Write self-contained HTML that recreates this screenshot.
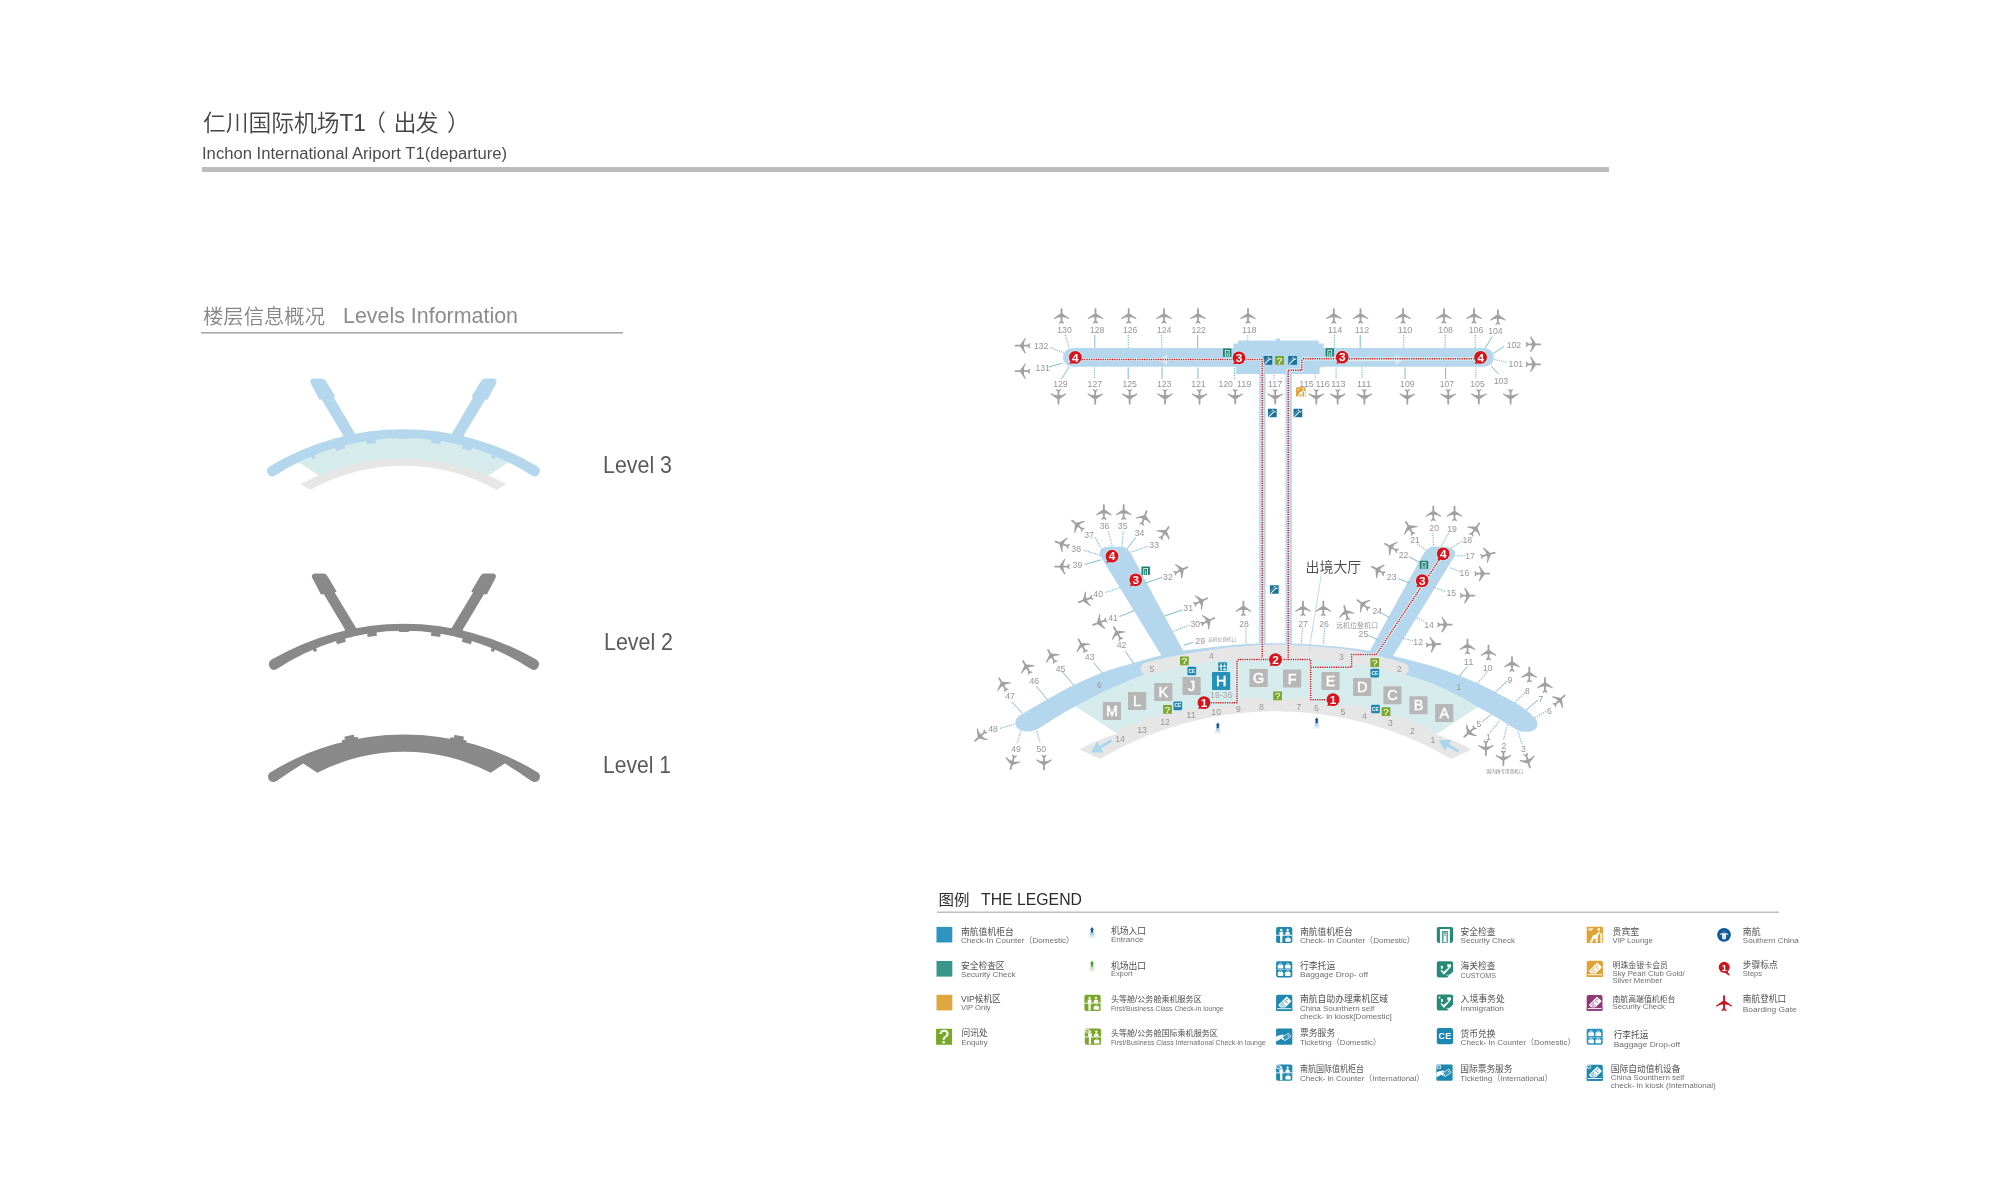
<!DOCTYPE html>
<html lang="zh">
<head>
<meta charset="utf-8">
<title>仁川国际机场T1（出发）</title>
<style>
html,body{margin:0;padding:0;background:#fff;}
body{width:2000px;height:1200px;overflow:hidden;font-family:"Liberation Sans", "Noto Sans CJK SC", sans-serif;}
svg{display:block;position:absolute;left:0;top:0;}
svg text{font-family:"Liberation Sans", "Noto Sans CJK SC", sans-serif;}
svg text{filter:grayscale(1);}
</style>
</head>
<body>
<svg width="2000" height="1200" viewBox="0 0 2000 1200">
<g id="header">
<text y="130.5" font-size="23" fill="#444" font-weight="350"><tspan x="203" textLength="163" lengthAdjust="spacingAndGlyphs">仁川国际机场T1</tspan><tspan x="363">（</tspan><tspan x="393.5" textLength="45">出发</tspan><tspan x="447">）</tspan></text>
<text x="202" y="158.6" font-size="16" fill="#4d4d4d" textLength="305" lengthAdjust="spacingAndGlyphs">Inchon International Ariport T1(departure)</text>
<rect x="202" y="167" width="1407" height="5" fill="#bdbdbd"/>
</g>
<g id="levels">
<text x="203" y="323.5" font-size="20.3" fill="#868686" textLength="122" lengthAdjust="spacingAndGlyphs" font-weight="350">楼层信息概况</text>
<text x="343" y="323.2" font-size="22.8" fill="#8c8c8c" textLength="175" lengthAdjust="spacingAndGlyphs">Levels Information</text>
<rect x="201" y="332" width="422" height="1.6" fill="#a9a9a9"/>
<path d="M300.4,484.3 A215,215 0 0 1 506.5,484.3 L496.5,489.8 A191.5,191.5 0 0 0 310.4,489.8Z" fill="#e6e6e6"/>
<path d="M298.3,462.2 L296,458 A245,245 0 0 1 510.9,458 L508.6,462.2 L487.4,476 A212,212 0 0 0 319.5,476Z" fill="#d6ebeb"/>
<path d="M319.4,399.7 L311.2,384.2 Q308.2,378.4 314.4,378.4 L321.9,378.4 Q324.2,378.4 325.8,381.1 L335.3,396.6 L333.8,397.5 L354.4,432.5 L356.4,440.5 L343.1,443.3 L343.1,435.3 L321.6,399.4Z" fill="#b4d7ed"/>
<path d="M487.5,399.7 L495.7,384.2 Q498.7,378.4 492.5,378.4 L485.0,378.4 Q482.7,378.4 481.1,381.1 L471.6,396.6 L473.1,397.5 L452.5,432.5 L450.5,440.5 L463.8,443.3 L463.8,435.3 L485.3,399.4Z" fill="#b4d7ed"/>
<path d="M269.4,466.4 A260.7,260.7 0 0 1 537.5,466.4 A5.4,5.4 0 0 1 532.3,475.8 A238.0,238.0 0 0 0 274.6,475.8 A5.4,5.4 0 0 1 269.4,466.4Z" fill="#b4d7ed"/>
<rect x="-4.8" y="-0.5" width="9.6" height="3.9" fill="#b4d7ed" transform="translate(370.8,440.2) rotate(-7.9)"/>
<rect x="-4.8" y="-0.5" width="9.6" height="3.9" fill="#b4d7ed" transform="translate(436.1,440.2) rotate(7.9)"/>
<rect x="-4.8" y="-0.5" width="9.6" height="3.9" fill="#b4d7ed" transform="translate(339.8,446.6) rotate(-15.5)"/>
<rect x="-4.8" y="-0.5" width="9.6" height="3.9" fill="#b4d7ed" transform="translate(467.1,446.6) rotate(15.5)"/>
<rect x="-1.8" y="-0.5" width="3.6" height="3.1" fill="#b4d7ed" transform="translate(313.0,455.8) rotate(-22.3)"/>
<rect x="-1.8" y="-0.5" width="3.6" height="3.1" fill="#b4d7ed" transform="translate(493.9,455.8) rotate(22.3)"/>
<rect x="398.45" y="437" width="10" height="1.8" fill="#b4d7ed"/>
<text x="603" y="472.6" font-size="23.4" fill="#5a5a5a" textLength="69" lengthAdjust="spacingAndGlyphs">Level 3</text>
<path d="M321.0,594.5 L312.8,579.1 Q309.8,573.4 315.9,573.4 L323.7,573.4 Q326.0,573.4 327.6,576.2 L336.6,591.6 L334.7,592.5 L355.8,627.4 L357.8,635.4 L344.8,637.2 L344.8,629.2 L323.7,594.0Z" fill="#898989"/>
<path d="M486.8,594.5 L495.0,579.1 Q498.0,573.4 491.9,573.4 L484.1,573.4 Q481.8,573.4 480.2,576.2 L471.2,591.6 L473.1,592.5 L452.0,627.4 L450.0,635.4 L463.0,637.2 L463.0,629.2 L484.1,594.0Z" fill="#898989"/>
<path d="M271.6,659.6 A262.4,262.4 0 0 1 536.2,659.6 A5.5,5.5 0 0 1 531.8,669.6 A230.2,230.2 0 0 0 276.0,669.6 A5.5,5.5 0 0 1 271.6,659.6Z" fill="#898989"/>
<rect x="-4.7" y="-0.5" width="9.4" height="3.9" fill="#898989" transform="translate(371.8,633.0) rotate(-8.0)"/>
<rect x="-4.7" y="-0.5" width="9.4" height="3.9" fill="#898989" transform="translate(436.0,633.0) rotate(8.0)"/>
<rect x="-4.7" y="-0.5" width="9.4" height="3.9" fill="#898989" transform="translate(340.5,639.7) rotate(-16.0)"/>
<rect x="-4.7" y="-0.5" width="9.4" height="3.9" fill="#898989" transform="translate(467.3,639.7) rotate(16.0)"/>
<rect x="-1.7" y="-0.5" width="3.4" height="3.1" fill="#898989" transform="translate(314.5,648.9) rotate(-22.9)"/>
<rect x="-1.7" y="-0.5" width="3.4" height="3.1" fill="#898989" transform="translate(493.3,648.9) rotate(22.9)"/>
<rect x="398.9" y="630" width="10" height="2" fill="#898989"/>
<text x="604" y="649.6" font-size="23.4" fill="#5a5a5a" textLength="69" lengthAdjust="spacingAndGlyphs">Level 2</text>
<path d="M269.4,772.9 A255.1,255.1 0 0 1 538.6,772.9 A5.4,5.4 0 0 1 531.4,780.9 Q518.0,771.8 504.8,763.6 L490.6,772.7 A189.9,189.9 0 0 0 317.4,772.7 L303.2,763.6 Q290,771.8 276.6,780.9 A5.4,5.4 0 0 1 269.4,772.9Z" fill="#898989"/>
<g transform="translate(349.9,740.3) rotate(-12.2)" fill="#898989"><rect x="-8" y="-1.7" width="16.4" height="3.4"/><rect x="-4.7" y="-4.7" width="9.8" height="5" rx="0.8"/></g>
<g transform="translate(458.1,740.3) rotate(12.2)" fill="#898989"><rect x="-8" y="-1.7" width="16.4" height="3.4"/><rect x="-4.7" y="-4.7" width="9.8" height="5" rx="0.8"/></g>
<text x="603" y="772.6" font-size="23.4" fill="#5a5a5a" textLength="68" lengthAdjust="spacingAndGlyphs">Level 1</text>
</g>
<g id="map">
<defs>
<g id="pl"><path d="M0,-7.9 C0.7,-7.8 0.92,-7.0 0.92,-6.0 L0.92,-2.4 Q4.2,-0.2 7.8,2.5 L7.4,3.5 Q3.6,1.1 0.92,1.5 L0.88,5.0 L2.5,7.0 L2.3,7.9 L0,6.9 L-2.3,7.9 L-2.5,7.0 L-0.88,5.0 L-0.92,1.5 Q-3.6,1.1 -7.4,3.5 L-7.8,2.5 Q-4.2,-0.2 -0.92,-2.4 L-0.92,-6.0 C-0.92,-7.0 -0.7,-7.8 0,-7.9Z"/></g>
</defs>
<rect x="1063" y="348" width="180" height="18.8" rx="9.4" fill="#b4d7ed"/>
<rect x="1310" y="348" width="183.8" height="18.8" rx="9.4" fill="#b4d7ed"/>
<path d="M1233.4,343.6 L1238,343.6 L1238,340.6 L1275.8,340.6 L1275.8,338.6 L1280,338.6 L1280,340.6 L1318.8,340.6 L1318.8,343.6 L1323.6,343.6 L1323.6,367.2 L1319.6,367.2 L1319.6,374 L1236.2,374 L1236.2,367.2 L1233.4,367.2Z" fill="#b4d7ed"/>
<rect x="1259.2" y="373" width="6.3" height="271" fill="#b4d7ed"/>
<rect x="1285.5" y="373" width="6.3" height="271" fill="#b4d7ed"/>
<path d="M1159,359.8 L1167,354.6 L1167,365.2Z" fill="#d9ecec"/>
<path d="M1403.6,359.7 L1395.5,354.4 L1395.5,358.6 L1346,358.6 L1346,361.2 L1395.5,361.2 L1395.5,365Z" fill="#d9ecec"/>
<path d="M1079.9,749.4C1082.4,748.1 1088.8,744.4 1095.0,741.8 C1101.2,739.2 1113.3,735.0 1117.0,733.6 L1150,690 L1401.2,690 L1434.2,733.6C1437.9,735.0 1450.0,739.2 1456.2,741.8 C1462.4,744.4 1468.8,748.1 1471.3,749.4 L1451.4,759.0 A347.0,347.0 0 0 0 1099.8,759.0Z" fill="#e6e6e6"/>
<path d="M1075.6,706.6 L1117.0,733.6 L1119.8,731.2 L1120.4,729.0 L1133.6,723.4 L1135.2,725.0 L1141.8,720.2 L1152.6,716.2 L1154.0,717.6 L1165.0,713.6 L1180.0,710.6 L1198.0,708.4 L1215.0,706.4 L1236.0,704.2 L1241.6,703.4 L1242.2,697.8 L1258.0,697.0 L1259.0,699.6 L1275.6,699.2 L1292.0,699.4 L1293.0,697.4 L1309.0,697.6 L1310.0,703.0 L1316.0,703.6 L1330.0,704.6 L1345.0,706.0 L1346.0,704.0 L1364.6,706.6 L1363.4,709.2 L1380.0,712.6 L1393.4,716.8 L1394.4,715.0 L1411.6,720.6 L1410.4,723.2 L1417.6,725.2 L1418.8,723.4 L1431.6,729.0 L1431.0,731.6 L1436.2,734.4 L1477.6,707.0 L1477.0,702.0 L1450.0,687.0 L1410.0,672.0 L1400.0,668.0 L1350.0,655.0 L1275.6,650.0 L1200.0,655.0 L1150.0,668.0 L1135.0,674.0 L1100.0,689.0 L1076.0,702.0Z" fill="#d6ebeb"/>
<path d="M1015.2,723.0C1015.4,722.3 1015.4,720.1 1016.6,718.6 C1017.8,717.1 1017.3,717.1 1022.5,713.8 C1027.7,710.5 1039.4,703.8 1048.0,699.0 C1056.6,694.2 1064.9,689.4 1074.0,685.0 C1083.1,680.6 1092.5,676.3 1102.5,672.6 C1112.5,668.9 1124.2,665.6 1134.0,662.8 C1143.8,659.9 1152.7,657.5 1161.0,655.5 C1169.3,653.5 1175.8,652.0 1184.0,650.6 C1192.2,649.2 1200.7,648.4 1210.0,647.4 C1219.3,646.4 1231.8,645.0 1240.0,644.4 C1248.2,643.8 1253.1,643.7 1259.0,643.5 C1264.9,643.3 1270.1,643.2 1275.6,643.2 C1281.1,643.2 1286.1,643.3 1292.0,643.5 C1297.9,643.7 1302.8,643.8 1311.0,644.4 C1319.2,645.0 1331.7,646.0 1341.0,647.0 C1350.3,648.0 1358.3,649.1 1367.0,650.6 C1375.7,652.1 1382.5,653.5 1393.0,656.0 C1403.5,658.5 1418.8,662.3 1430.0,665.6 C1441.2,668.9 1452.0,673.0 1460.0,676.0 C1468.0,679.0 1472.2,680.9 1478.0,683.6 C1483.8,686.3 1488.8,688.8 1495.0,692.0 C1501.2,695.2 1509.8,699.6 1515.0,702.6 C1520.2,705.6 1523.0,707.7 1526.0,710.0 C1529.0,712.3 1531.5,714.9 1533.2,716.6 C1534.9,718.3 1535.7,718.8 1536.4,720.0 C1537.1,721.2 1537.4,723.0 1537.6,723.6 C1537.4,724.3 1537.4,726.7 1536.4,728.0 C1535.4,729.3 1533.4,730.6 1531.5,731.2 C1529.6,731.8 1527.2,731.9 1525.0,731.8 C1522.8,731.7 1520.8,731.6 1518.0,730.4 C1515.2,729.2 1512.7,727.4 1508.0,724.6 C1503.3,721.8 1495.0,716.5 1490.0,713.6 C1485.0,710.7 1482.2,709.4 1478.0,707.0 C1473.8,704.6 1469.7,701.6 1465.0,699.0 C1460.3,696.4 1455.8,694.3 1450.0,691.6 C1444.2,688.9 1436.7,685.2 1430.0,682.6 C1423.3,680.0 1415.0,677.6 1410.0,676.0 C1405.0,674.4 1401.7,673.5 1400.0,673.0 L1400,668 L1350,657 L1275.6,652 L1200,657 L1150,668 L1150.0,672.6C1149.0,672.9 1146.5,673.3 1144.0,674.2 C1141.5,675.1 1139.8,675.9 1135.0,678.0 C1130.2,680.1 1121.7,683.6 1115.0,686.6 C1108.3,689.6 1101.7,692.7 1095.0,696.0 C1088.3,699.3 1081.7,702.9 1075.0,706.6 C1068.3,710.3 1060.8,714.5 1055.0,718.0 C1049.2,721.5 1043.7,725.7 1040.0,727.8 C1036.3,729.9 1035.2,730.2 1033.0,730.8 C1030.8,731.4 1029.1,731.7 1027.0,731.6 C1024.9,731.5 1022.3,730.8 1020.5,730.0 C1018.7,729.2 1017.3,728.2 1016.4,727.0 C1015.5,725.8 1015.4,723.7 1015.2,723.0 Z" fill="#b4d7ed"/>
<path d="M1162.6,657.4 L1100.6,556.4 C1097.6,551.5 1102.3,546.6 1110.0,546.6 L1121.5,546.8 C1124.9,546.8 1128.3,548.8 1131.4,554.6 L1183.6,651.6 L1181.6,659.6 L1166.6,663.4Z" fill="#b4d7ed"/>
<path d="M1369.4,651.6 L1423.6,553.4 C1425.5,550.0 1430.4,546.5 1433.4,546.5 L1445.2,546.9 C1452.8,546.9 1457.4,551.8 1454.4,556.6 L1392.6,656.6 L1388.6,662.6 L1371.4,659.6Z" fill="#b4d7ed"/>
<path d="M1145.6,674.2 A5.85,5.85 0 0 1 1146.4,662.6 C1147.6,662.3 1150.5,661.4 1153.3,660.7 C1156.1,660.0 1159.4,659.1 1163.3,658.2 C1167.2,657.3 1173.1,656.2 1176.7,655.5 C1180.3,654.8 1180.3,654.8 1185.0,654.0 C1189.7,653.2 1198.3,651.7 1205.0,650.7 C1211.7,649.7 1218.3,648.6 1225.0,647.8 C1231.7,647.0 1239.3,646.5 1245.0,646.0 C1250.7,645.5 1253.9,645.2 1259.0,645.0 C1264.1,644.8 1270.1,644.6 1275.6,644.6 C1281.1,644.6 1286.1,644.8 1292.0,645.0 C1297.9,645.2 1302.8,645.4 1311.0,646.0 C1319.2,646.6 1332.8,647.7 1341.0,648.6 C1349.2,649.5 1354.2,650.4 1360.0,651.6 C1365.8,652.8 1372.1,654.6 1376.0,655.6 C1379.9,656.6 1380.4,656.7 1383.3,657.4 C1386.2,658.1 1390.0,658.8 1393.3,659.7 C1396.5,660.6 1401.2,662.3 1402.8,662.8 A6.1,6.1 0 0 1 1403.6,674.9 C1401.9,674.4 1396.9,673.0 1393.3,672.0 C1389.7,671.0 1385.8,670.0 1381.7,669.0 C1377.6,668.0 1372.3,667.0 1368.7,666.3 C1365.1,665.6 1364.8,665.2 1360.0,664.7 C1355.2,664.2 1348.3,663.7 1340.0,663.0 C1331.7,662.3 1319.5,661.1 1310.0,660.5 C1300.5,659.9 1288.7,659.7 1283.0,659.5 C1277.3,659.3 1278.1,659.4 1275.6,659.4 C1273.1,659.4 1273.1,659.5 1268.0,659.5 C1262.9,659.5 1250.5,659.3 1245.0,659.3 C1239.5,659.3 1239.5,659.4 1235.0,659.6 C1230.5,659.9 1223.3,660.3 1218.3,660.8 C1213.3,661.2 1209.7,661.7 1205.0,662.3 C1200.3,662.9 1194.7,663.7 1190.0,664.6 C1185.3,665.5 1181.2,666.5 1176.7,667.6 C1172.2,668.7 1167.2,670.1 1163.3,671.0 C1159.4,671.9 1156.2,672.5 1153.3,673.0 C1150.3,673.5 1146.9,674.0 1145.6,674.2 Z" fill="#e6e6e6"/>
<path d="M1110.7,739.4 L1099.6,745.9 L1097.1,741.7 L1091.1,752.4 L1103.4,752.4 L1100.9,748.2 L1112.1,741.8Z" fill="#a9d5ef"/>
<path d="M1459.3,750.2 L1448.8,744.1 L1451.2,739.9 L1438.9,740.0 L1445.0,750.7 L1447.4,746.5 L1457.9,752.6Z" fill="#a9d5ef"/>
<line x1="1065.2" y1="334.8" x2="1069.0" y2="347.6" stroke="#74b2c8" stroke-width="1.1" stroke-dasharray="1.15 1.15"/>
<line x1="1094.8" y1="335.0" x2="1094.8" y2="347.8" stroke="#74b2c8" stroke-width="0.9"/>
<line x1="1128.3" y1="335.0" x2="1128.3" y2="347.8" stroke="#74b2c8" stroke-width="1.1" stroke-dasharray="1.15 1.15"/>
<line x1="1161.7" y1="335.0" x2="1161.7" y2="347.8" stroke="#74b2c8" stroke-width="1.1" stroke-dasharray="1.15 1.15"/>
<line x1="1197.7" y1="335.0" x2="1197.7" y2="347.8" stroke="#74b2c8" stroke-width="0.9"/>
<line x1="1247.8" y1="335.2" x2="1247.8" y2="340.6" stroke="#74b2c8" stroke-width="1.1" stroke-dasharray="1.15 1.15"/>
<line x1="1334.5" y1="335.0" x2="1334.5" y2="347.8" stroke="#74b2c8" stroke-width="1.1" stroke-dasharray="1.15 1.15"/>
<line x1="1360.2" y1="335.0" x2="1360.2" y2="347.8" stroke="#74b2c8" stroke-width="0.9"/>
<line x1="1403.7" y1="335.0" x2="1403.7" y2="347.8" stroke="#74b2c8" stroke-width="1.1" stroke-dasharray="1.15 1.15"/>
<line x1="1445.2" y1="335.0" x2="1445.2" y2="347.8" stroke="#74b2c8" stroke-width="1.1" stroke-dasharray="1.15 1.15"/>
<line x1="1475.2" y1="335.0" x2="1475.2" y2="347.8" stroke="#74b2c8" stroke-width="1.1" stroke-dasharray="1.15 1.15"/>
<line x1="1492.4" y1="336.6" x2="1485.3" y2="347.8" stroke="#74b2c8" stroke-width="0.9"/>
<line x1="1504.1" y1="346.4" x2="1493.1" y2="353.5" stroke="#74b2c8" stroke-width="0.9"/>
<line x1="1506.7" y1="362.3" x2="1494.4" y2="359.4" stroke="#74b2c8" stroke-width="1.1" stroke-dasharray="1.15 1.15"/>
<line x1="1498.9" y1="374.3" x2="1491.1" y2="365.9" stroke="#74b2c8" stroke-width="0.9"/>
<line x1="1050.2" y1="347.5" x2="1063.7" y2="352.7" stroke="#74b2c8" stroke-width="1.1" stroke-dasharray="1.15 1.15"/>
<line x1="1048.7" y1="367.0" x2="1062.2" y2="363.2" stroke="#74b2c8" stroke-width="0.9"/>
<line x1="1061.5" y1="379.0" x2="1069.0" y2="367.0" stroke="#74b2c8" stroke-width="0.9"/>
<line x1="1094.5" y1="367.4" x2="1094.5" y2="379.0" stroke="#74b2c8" stroke-width="1.1" stroke-dasharray="1.15 1.15"/>
<line x1="1128.2" y1="367.4" x2="1128.2" y2="379.0" stroke="#74b2c8" stroke-width="0.9"/>
<line x1="1162.0" y1="367.4" x2="1162.0" y2="379.0" stroke="#74b2c8" stroke-width="0.9"/>
<line x1="1198.0" y1="367.4" x2="1198.0" y2="379.0" stroke="#74b2c8" stroke-width="0.9"/>
<line x1="1234.4" y1="368.0" x2="1234.4" y2="380.0" stroke="#74b2c8" stroke-width="1.1" stroke-dasharray="1.15 1.15"/>
<line x1="1274.0" y1="375.0" x2="1274.0" y2="379.4" stroke="#74b2c8" stroke-width="1.1" stroke-dasharray="1.15 1.15"/>
<line x1="1315.3" y1="374.2" x2="1315.3" y2="379.4" stroke="#74b2c8" stroke-width="1.1" stroke-dasharray="1.15 1.15"/>
<line x1="1336.1" y1="367.4" x2="1336.1" y2="379.0" stroke="#74b2c8" stroke-width="1.1" stroke-dasharray="1.15 1.15"/>
<line x1="1362.1" y1="367.4" x2="1362.1" y2="379.0" stroke="#74b2c8" stroke-width="1.1" stroke-dasharray="1.15 1.15"/>
<line x1="1405.0" y1="367.4" x2="1405.0" y2="379.0" stroke="#74b2c8" stroke-width="0.9"/>
<line x1="1445.6" y1="367.4" x2="1445.6" y2="379.0" stroke="#74b2c8" stroke-width="0.9"/>
<line x1="1475.8" y1="367.4" x2="1475.8" y2="379.0" stroke="#74b2c8" stroke-width="1.1" stroke-dasharray="1.15 1.15"/>
<line x1="1108.4" y1="531.4" x2="1112.4" y2="546.8" stroke="#74b2c8" stroke-width="1.1" stroke-dasharray="1.15 1.15"/>
<line x1="1123.3" y1="531.6" x2="1122.0" y2="546.8" stroke="#74b2c8" stroke-width="1.1" stroke-dasharray="1.15 1.15"/>
<line x1="1094.8" y1="537.4" x2="1102.6" y2="550.4" stroke="#74b2c8" stroke-width="1.1" stroke-dasharray="1.15 1.15"/>
<line x1="1135.8" y1="537.4" x2="1127.0" y2="549.0" stroke="#74b2c8" stroke-width="0.9"/>
<line x1="1147.6" y1="546.4" x2="1130.6" y2="552.4" stroke="#74b2c8" stroke-width="1.1" stroke-dasharray="1.15 1.15"/>
<line x1="1083.6" y1="550.2" x2="1100.0" y2="555.2" stroke="#74b2c8" stroke-width="1.1" stroke-dasharray="1.15 1.15"/>
<line x1="1084.6" y1="564.6" x2="1101.0" y2="559.8" stroke="#74b2c8" stroke-width="0.9"/>
<line x1="1145.2" y1="583.2" x2="1162.0" y2="577.4" stroke="#74b2c8" stroke-width="0.9"/>
<line x1="1105.4" y1="592.4" x2="1120.0" y2="587.6" stroke="#74b2c8" stroke-width="1.1" stroke-dasharray="1.15 1.15"/>
<line x1="1164.2" y1="616.2" x2="1182.0" y2="610.0" stroke="#74b2c8" stroke-width="0.9"/>
<line x1="1119.4" y1="616.6" x2="1134.2" y2="610.6" stroke="#74b2c8" stroke-width="0.9"/>
<line x1="1173.4" y1="631.2" x2="1190.0" y2="625.0" stroke="#74b2c8" stroke-width="1.1" stroke-dasharray="1.15 1.15"/>
<line x1="1125.2" y1="651.2" x2="1133.8" y2="663.4" stroke="#74b2c8" stroke-width="0.9"/>
<line x1="1183.6" y1="645.4" x2="1193.0" y2="642.2" stroke="#74b2c8" stroke-width="0.9"/>
<line x1="1093.5" y1="662.6" x2="1102.5" y2="673.0" stroke="#74b2c8" stroke-width="0.9"/>
<line x1="1062.5" y1="672.0" x2="1074.0" y2="685.5" stroke="#74b2c8" stroke-width="0.9"/>
<line x1="1036.2" y1="686.0" x2="1047.5" y2="699.8" stroke="#74b2c8" stroke-width="0.9"/>
<line x1="1012.0" y1="701.8" x2="1022.0" y2="713.0" stroke="#74b2c8" stroke-width="0.9"/>
<line x1="1000.0" y1="728.4" x2="1014.6" y2="724.2" stroke="#74b2c8" stroke-width="1.1" stroke-dasharray="1.15 1.15"/>
<line x1="1021.0" y1="730.6" x2="1017.0" y2="743.6" stroke="#74b2c8" stroke-width="1.1" stroke-dasharray="1.15 1.15"/>
<line x1="1036.8" y1="731.0" x2="1040.2" y2="742.6" stroke="#74b2c8" stroke-width="1.1" stroke-dasharray="1.15 1.15"/>
<line x1="1246.0" y1="628.0" x2="1246.0" y2="644.0" stroke="#74b2c8" stroke-width="1.1" stroke-dasharray="1.15 1.15"/>
<line x1="1302.5" y1="628.3" x2="1301.2" y2="643.6" stroke="#74b2c8" stroke-width="1.1" stroke-dasharray="1.15 1.15"/>
<line x1="1324.8" y1="628.3" x2="1323.3" y2="644.8" stroke="#74b2c8" stroke-width="1.1" stroke-dasharray="1.15 1.15"/>
<line x1="1432.8" y1="532.6" x2="1433.5" y2="546.2" stroke="#74b2c8" stroke-width="1.1" stroke-dasharray="1.15 1.15"/>
<line x1="1448.4" y1="533.3" x2="1441.3" y2="546.4" stroke="#74b2c8" stroke-width="1.1" stroke-dasharray="1.15 1.15"/>
<line x1="1417.2" y1="543.9" x2="1425.7" y2="549.6" stroke="#74b2c8" stroke-width="1.1" stroke-dasharray="1.15 1.15"/>
<line x1="1462.6" y1="541.0" x2="1450.5" y2="548.1" stroke="#74b2c8" stroke-width="1.1" stroke-dasharray="1.15 1.15"/>
<line x1="1408.7" y1="556.7" x2="1419.4" y2="562.3" stroke="#74b2c8" stroke-width="0.9"/>
<line x1="1465.4" y1="555.7" x2="1455.5" y2="555.7" stroke="#74b2c8" stroke-width="1.1" stroke-dasharray="1.15 1.15"/>
<line x1="1459.8" y1="571.5" x2="1449.1" y2="567.3" stroke="#74b2c8" stroke-width="1.1" stroke-dasharray="1.15 1.15"/>
<line x1="1398.1" y1="578.6" x2="1409.4" y2="582.9" stroke="#74b2c8" stroke-width="0.9"/>
<line x1="1444.9" y1="591.4" x2="1432.8" y2="587.1" stroke="#74b2c8" stroke-width="1.1" stroke-dasharray="1.15 1.15"/>
<line x1="1381.8" y1="613.3" x2="1389.6" y2="617.6" stroke="#74b2c8" stroke-width="0.9"/>
<line x1="1424.3" y1="621.1" x2="1415.8" y2="617.6" stroke="#74b2c8" stroke-width="1.1" stroke-dasharray="1.15 1.15"/>
<line x1="1368.3" y1="635.3" x2="1377.1" y2="639.6" stroke="#74b2c8" stroke-width="0.9"/>
<line x1="1413.0" y1="641.0" x2="1403.1" y2="638.1" stroke="#74b2c8" stroke-width="1.1" stroke-dasharray="1.15 1.15"/>
<line x1="1467.5" y1="666.2" x2="1459.5" y2="676.0" stroke="#74b2c8" stroke-width="0.9"/>
<line x1="1487.5" y1="671.5" x2="1477.5" y2="683.5" stroke="#74b2c8" stroke-width="1.1" stroke-dasharray="1.15 1.15"/>
<line x1="1507.5" y1="680.8" x2="1495.0" y2="692.5" stroke="#74b2c8" stroke-width="0.9"/>
<line x1="1525.0" y1="692.5" x2="1515.0" y2="702.5" stroke="#74b2c8" stroke-width="1.1" stroke-dasharray="1.15 1.15"/>
<line x1="1538.0" y1="700.0" x2="1526.0" y2="710.0" stroke="#74b2c8" stroke-width="0.9"/>
<line x1="1546.0" y1="711.5" x2="1535.0" y2="717.5" stroke="#74b2c8" stroke-width="1.1" stroke-dasharray="1.15 1.15"/>
<line x1="1482.0" y1="722.0" x2="1491.0" y2="714.5" stroke="#74b2c8" stroke-width="0.9"/>
<line x1="1490.0" y1="732.5" x2="1500.0" y2="720.0" stroke="#74b2c8" stroke-width="1.1" stroke-dasharray="1.15 1.15"/>
<line x1="1503.5" y1="739.5" x2="1507.5" y2="725.0" stroke="#74b2c8" stroke-width="1.1" stroke-dasharray="1.15 1.15"/>
<line x1="1522.0" y1="744.0" x2="1518.0" y2="731.5" stroke="#74b2c8" stroke-width="1.1" stroke-dasharray="1.15 1.15"/>
<line x1="1321.3" y1="574.8" x2="1309" y2="651" stroke="#b4d7ed" stroke-width="0.9"/>
<use href="#pl" transform="translate(1061.5,315.8)" fill="#a3a0a0"/>
<use href="#pl" transform="translate(1095.5,315.8)" fill="#a3a0a0"/>
<use href="#pl" transform="translate(1128.7,315.8)" fill="#a3a0a0"/>
<use href="#pl" transform="translate(1164.0,315.8)" fill="#a3a0a0"/>
<use href="#pl" transform="translate(1198.0,315.8)" fill="#a3a0a0"/>
<use href="#pl" transform="translate(1248.0,315.8)" fill="#a3a0a0"/>
<use href="#pl" transform="translate(1333.8,315.8)" fill="#a3a0a0"/>
<use href="#pl" transform="translate(1360.5,315.8)" fill="#a3a0a0"/>
<use href="#pl" transform="translate(1403.1,315.8)" fill="#a3a0a0"/>
<use href="#pl" transform="translate(1443.9,315.8)" fill="#a3a0a0"/>
<use href="#pl" transform="translate(1474.0,315.8)" fill="#a3a0a0"/>
<use href="#pl" transform="translate(1497.9,317.2)" fill="#a3a0a0"/>
<use href="#pl" transform="translate(1022.5,345.7) rotate(-90)" fill="#a3a0a0"/>
<use href="#pl" transform="translate(1022.5,371.2) rotate(-90)" fill="#a3a0a0"/>
<use href="#pl" transform="translate(1533.4,344.3) rotate(90)" fill="#a3a0a0"/>
<use href="#pl" transform="translate(1533.4,364.3) rotate(90)" fill="#a3a0a0"/>
<use href="#pl" transform="translate(1058.5,396.8) rotate(180)" fill="#a3a0a0"/>
<use href="#pl" transform="translate(1095.2,396.8) rotate(180)" fill="#a3a0a0"/>
<use href="#pl" transform="translate(1129.7,396.8) rotate(180)" fill="#a3a0a0"/>
<use href="#pl" transform="translate(1165.0,396.8) rotate(180)" fill="#a3a0a0"/>
<use href="#pl" transform="translate(1199.5,396.8) rotate(180)" fill="#a3a0a0"/>
<use href="#pl" transform="translate(1235.2,396.8) rotate(180)" fill="#a3a0a0"/>
<use href="#pl" transform="translate(1275.2,396.8) rotate(180)" fill="#a3a0a0"/>
<use href="#pl" transform="translate(1316.3,396.8) rotate(180)" fill="#a3a0a0"/>
<use href="#pl" transform="translate(1337.7,396.8) rotate(180)" fill="#a3a0a0"/>
<use href="#pl" transform="translate(1364.4,396.8) rotate(180)" fill="#a3a0a0"/>
<use href="#pl" transform="translate(1407.3,396.8) rotate(180)" fill="#a3a0a0"/>
<use href="#pl" transform="translate(1448.2,396.8) rotate(180)" fill="#a3a0a0"/>
<use href="#pl" transform="translate(1478.8,396.8) rotate(180)" fill="#a3a0a0"/>
<use href="#pl" transform="translate(1510.6,396.8) rotate(180)" fill="#a3a0a0"/>
<use href="#pl" transform="translate(1103.9,512.0)" fill="#a3a0a0"/>
<use href="#pl" transform="translate(1123.7,512.0)" fill="#a3a0a0"/>
<use href="#pl" transform="translate(1144.2,517.7) rotate(20)" fill="#a3a0a0"/>
<use href="#pl" transform="translate(1164.8,532.6) rotate(35)" fill="#a3a0a0"/>
<use href="#pl" transform="translate(1077.4,525.1) rotate(-50)" fill="#a3a0a0"/>
<use href="#pl" transform="translate(1062.0,543.9) rotate(-70)" fill="#a3a0a0"/>
<use href="#pl" transform="translate(1062.0,566.6) rotate(-90)" fill="#a3a0a0"/>
<use href="#pl" transform="translate(1181.1,570.1) rotate(65)" fill="#a3a0a0"/>
<use href="#pl" transform="translate(1085.4,599.9) rotate(-110)" fill="#a3a0a0"/>
<use href="#pl" transform="translate(1099.6,622.5) rotate(-110)" fill="#a3a0a0"/>
<use href="#pl" transform="translate(1200.9,601.3) rotate(65)" fill="#a3a0a0"/>
<use href="#pl" transform="translate(1208.0,621.0) rotate(65)" fill="#a3a0a0"/>
<use href="#pl" transform="translate(1117.3,633.2) rotate(-30)" fill="#a3a0a0"/>
<use href="#pl" transform="translate(1082.0,645.5) rotate(-30)" fill="#a3a0a0"/>
<use href="#pl" transform="translate(1051.5,656.0) rotate(-30)" fill="#a3a0a0"/>
<use href="#pl" transform="translate(1026.5,667.0) rotate(-30)" fill="#a3a0a0"/>
<use href="#pl" transform="translate(1002.7,684.3) rotate(-30)" fill="#a3a0a0"/>
<use href="#pl" transform="translate(980.2,736.2) rotate(-132)" fill="#a3a0a0"/>
<use href="#pl" transform="translate(1012.4,762.5) rotate(196)" fill="#a3a0a0"/>
<use href="#pl" transform="translate(1044.0,762.7) rotate(180)" fill="#a3a0a0"/>
<use href="#pl" transform="translate(1243.4,608.4)" fill="#a3a0a0"/>
<use href="#pl" transform="translate(1303.0,608.4)" fill="#a3a0a0"/>
<use href="#pl" transform="translate(1323.3,608.4)" fill="#a3a0a0"/>
<use href="#pl" transform="translate(1346.0,612.6) rotate(-15)" fill="#a3a0a0"/>
<use href="#pl" transform="translate(1433.3,513.4)" fill="#a3a0a0"/>
<use href="#pl" transform="translate(1454.5,513.4)" fill="#a3a0a0"/>
<use href="#pl" transform="translate(1409.4,527.9) rotate(-30)" fill="#a3a0a0"/>
<use href="#pl" transform="translate(1475.3,529.0) rotate(35)" fill="#a3a0a0"/>
<use href="#pl" transform="translate(1391.0,547.2) rotate(-60)" fill="#a3a0a0"/>
<use href="#pl" transform="translate(1488.1,554.5) rotate(75)" fill="#a3a0a0"/>
<use href="#pl" transform="translate(1378.0,570.1) rotate(-60)" fill="#a3a0a0"/>
<use href="#pl" transform="translate(1482.1,573.7) rotate(90)" fill="#a3a0a0"/>
<use href="#pl" transform="translate(1467.6,595.6) rotate(90)" fill="#a3a0a0"/>
<use href="#pl" transform="translate(1362.9,604.4) rotate(-52)" fill="#a3a0a0"/>
<use href="#pl" transform="translate(1444.9,624.7) rotate(90)" fill="#a3a0a0"/>
<use href="#pl" transform="translate(1433.5,644.5) rotate(85)" fill="#a3a0a0"/>
<use href="#pl" transform="translate(1467.5,646.5)" fill="#a3a0a0"/>
<use href="#pl" transform="translate(1488.5,652.5)" fill="#a3a0a0"/>
<use href="#pl" transform="translate(1512.0,664.0)" fill="#a3a0a0"/>
<use href="#pl" transform="translate(1529.3,674.5)" fill="#a3a0a0"/>
<use href="#pl" transform="translate(1545.0,685.0)" fill="#a3a0a0"/>
<use href="#pl" transform="translate(1559.6,700.2) rotate(47)" fill="#a3a0a0"/>
<use href="#pl" transform="translate(1469.4,732.2) rotate(-132)" fill="#a3a0a0"/>
<use href="#pl" transform="translate(1485.9,748.2) rotate(180)" fill="#a3a0a0"/>
<use href="#pl" transform="translate(1503.4,758.2) rotate(180)" fill="#a3a0a0"/>
<use href="#pl" transform="translate(1527.9,761.0) rotate(163)" fill="#a3a0a0"/>
<text x="1064.5" y="333.0" font-size="9.5" fill="#979797" text-anchor="middle" textLength="14.5" lengthAdjust="spacingAndGlyphs">130</text>
<text x="1097.2" y="333.0" font-size="9.5" fill="#979797" text-anchor="middle" textLength="14.5" lengthAdjust="spacingAndGlyphs">128</text>
<text x="1130.2" y="333.0" font-size="9.5" fill="#979797" text-anchor="middle" textLength="14.5" lengthAdjust="spacingAndGlyphs">126</text>
<text x="1164.2" y="333.0" font-size="9.5" fill="#979797" text-anchor="middle" textLength="14.5" lengthAdjust="spacingAndGlyphs">124</text>
<text x="1249.3" y="333.0" font-size="9.5" fill="#979797" text-anchor="middle" textLength="14.5" lengthAdjust="spacingAndGlyphs">118</text>
<text x="1335.0" y="333.0" font-size="9.5" fill="#979797" text-anchor="middle" textLength="14.5" lengthAdjust="spacingAndGlyphs">114</text>
<text x="1362.0" y="333.0" font-size="9.5" fill="#979797" text-anchor="middle" textLength="14.5" lengthAdjust="spacingAndGlyphs">112</text>
<text x="1405.0" y="333.0" font-size="9.5" fill="#979797" text-anchor="middle" textLength="14.5" lengthAdjust="spacingAndGlyphs">110</text>
<text x="1445.6" y="333.0" font-size="9.5" fill="#979797" text-anchor="middle" textLength="14.5" lengthAdjust="spacingAndGlyphs">108</text>
<text x="1476.0" y="333.0" font-size="9.5" fill="#979797" text-anchor="middle" textLength="14.5" lengthAdjust="spacingAndGlyphs">106</text>
<text x="1198.7" y="332.6" font-size="9.5" fill="#979797" text-anchor="middle" textLength="14.5" lengthAdjust="spacingAndGlyphs">122</text>
<text x="1495.4" y="334.2" font-size="9.5" fill="#979797" text-anchor="middle" textLength="14.5" lengthAdjust="spacingAndGlyphs">104</text>
<text x="1041.2" y="348.6" font-size="9.5" fill="#979797" text-anchor="middle" textLength="14.5" lengthAdjust="spacingAndGlyphs">132</text>
<text x="1042.7" y="371.1" font-size="9.5" fill="#979797" text-anchor="middle" textLength="14.5" lengthAdjust="spacingAndGlyphs">131</text>
<text x="1513.9" y="348.1" font-size="9.5" fill="#979797" text-anchor="middle" textLength="14.5" lengthAdjust="spacingAndGlyphs">102</text>
<text x="1515.8" y="366.7" font-size="9.5" fill="#979797" text-anchor="middle" textLength="14.5" lengthAdjust="spacingAndGlyphs">101</text>
<text x="1500.9" y="383.6" font-size="9.5" fill="#979797" text-anchor="middle" textLength="14.5" lengthAdjust="spacingAndGlyphs">103</text>
<text x="1060.4" y="386.6" font-size="9.5" fill="#979797" text-anchor="middle" textLength="14.5" lengthAdjust="spacingAndGlyphs">129</text>
<text x="1094.8" y="386.6" font-size="9.5" fill="#979797" text-anchor="middle" textLength="14.5" lengthAdjust="spacingAndGlyphs">127</text>
<text x="1129.7" y="386.6" font-size="9.5" fill="#979797" text-anchor="middle" textLength="14.5" lengthAdjust="spacingAndGlyphs">125</text>
<text x="1164.2" y="386.6" font-size="9.5" fill="#979797" text-anchor="middle" textLength="14.5" lengthAdjust="spacingAndGlyphs">123</text>
<text x="1198.4" y="386.6" font-size="9.5" fill="#979797" text-anchor="middle" textLength="14.5" lengthAdjust="spacingAndGlyphs">121</text>
<text x="1225.7" y="386.6" font-size="9.5" fill="#979797" text-anchor="middle" textLength="14.5" lengthAdjust="spacingAndGlyphs">120</text>
<text x="1244.0" y="386.6" font-size="9.5" fill="#979797" text-anchor="middle" textLength="14.5" lengthAdjust="spacingAndGlyphs">119</text>
<text x="1275.0" y="386.6" font-size="9.5" fill="#979797" text-anchor="middle" textLength="14.5" lengthAdjust="spacingAndGlyphs">117</text>
<text x="1306.5" y="386.6" font-size="9.5" fill="#979797" text-anchor="middle" textLength="14.5" lengthAdjust="spacingAndGlyphs">115</text>
<text x="1322.7" y="386.6" font-size="9.5" fill="#979797" text-anchor="middle" textLength="14.5" lengthAdjust="spacingAndGlyphs">116</text>
<text x="1338.4" y="386.6" font-size="9.5" fill="#979797" text-anchor="middle" textLength="14.5" lengthAdjust="spacingAndGlyphs">113</text>
<text x="1364.0" y="386.6" font-size="9.5" fill="#979797" text-anchor="middle" textLength="14.5" lengthAdjust="spacingAndGlyphs">111</text>
<text x="1407.3" y="386.6" font-size="9.5" fill="#979797" text-anchor="middle" textLength="14.5" lengthAdjust="spacingAndGlyphs">109</text>
<text x="1446.9" y="386.6" font-size="9.5" fill="#979797" text-anchor="middle" textLength="14.5" lengthAdjust="spacingAndGlyphs">107</text>
<text x="1477.5" y="386.6" font-size="9.5" fill="#979797" text-anchor="middle" textLength="14.5" lengthAdjust="spacingAndGlyphs">105</text>
<text x="1104.6" y="529.3" font-size="9.5" fill="#979797" text-anchor="middle" textLength="9.7" lengthAdjust="spacingAndGlyphs">36</text>
<text x="1122.7" y="529.4" font-size="9.5" fill="#979797" text-anchor="middle" textLength="9.7" lengthAdjust="spacingAndGlyphs">35</text>
<text x="1089.0" y="538.1" font-size="9.5" fill="#979797" text-anchor="middle" textLength="9.7" lengthAdjust="spacingAndGlyphs">37</text>
<text x="1139.6" y="536.4" font-size="9.5" fill="#979797" text-anchor="middle" textLength="9.7" lengthAdjust="spacingAndGlyphs">34</text>
<text x="1154.2" y="548.0" font-size="9.5" fill="#979797" text-anchor="middle" textLength="9.7" lengthAdjust="spacingAndGlyphs">33</text>
<text x="1076.2" y="551.5" font-size="9.5" fill="#979797" text-anchor="middle" textLength="9.7" lengthAdjust="spacingAndGlyphs">38</text>
<text x="1077.4" y="567.8" font-size="9.5" fill="#979797" text-anchor="middle" textLength="9.7" lengthAdjust="spacingAndGlyphs">39</text>
<text x="1167.9" y="579.5" font-size="9.5" fill="#979797" text-anchor="middle" textLength="9.7" lengthAdjust="spacingAndGlyphs">32</text>
<text x="1098.2" y="597.2" font-size="9.5" fill="#979797" text-anchor="middle" textLength="9.7" lengthAdjust="spacingAndGlyphs">40</text>
<text x="1188.2" y="611.4" font-size="9.5" fill="#979797" text-anchor="middle" textLength="9.7" lengthAdjust="spacingAndGlyphs">31</text>
<text x="1113.1" y="621.4" font-size="9.5" fill="#979797" text-anchor="middle" textLength="9.7" lengthAdjust="spacingAndGlyphs">41</text>
<text x="1195.3" y="627.4" font-size="9.5" fill="#979797" text-anchor="middle" textLength="9.7" lengthAdjust="spacingAndGlyphs">30</text>
<text x="1121.6" y="648.2" font-size="9.5" fill="#979797" text-anchor="middle" textLength="9.7" lengthAdjust="spacingAndGlyphs">42</text>
<text x="1200.2" y="644.0" font-size="9.5" fill="#979797" text-anchor="middle" textLength="9.7" lengthAdjust="spacingAndGlyphs">29</text>
<text x="1089.7" y="660.0" font-size="9.5" fill="#979797" text-anchor="middle" textLength="9.7" lengthAdjust="spacingAndGlyphs">43</text>
<text x="1060.5" y="671.9" font-size="9.5" fill="#979797" text-anchor="middle" textLength="9.7" lengthAdjust="spacingAndGlyphs">45</text>
<text x="1034.3" y="683.9" font-size="9.5" fill="#979797" text-anchor="middle" textLength="9.7" lengthAdjust="spacingAndGlyphs">46</text>
<text x="1010.0" y="699.2" font-size="9.5" fill="#979797" text-anchor="middle" textLength="9.7" lengthAdjust="spacingAndGlyphs">47</text>
<text x="993.0" y="732.2" font-size="9.5" fill="#979797" text-anchor="middle" textLength="9.7" lengthAdjust="spacingAndGlyphs">48</text>
<text x="1016.0" y="751.9" font-size="9.5" fill="#979797" text-anchor="middle" textLength="9.7" lengthAdjust="spacingAndGlyphs">49</text>
<text x="1041.3" y="751.9" font-size="9.5" fill="#979797" text-anchor="middle" textLength="9.7" lengthAdjust="spacingAndGlyphs">50</text>
<text x="1244.0" y="627.4" font-size="9.5" fill="#979797" text-anchor="middle" textLength="9.7" lengthAdjust="spacingAndGlyphs">28</text>
<text x="1303.0" y="627.0" font-size="9.5" fill="#979797" text-anchor="middle" textLength="9.7" lengthAdjust="spacingAndGlyphs">27</text>
<text x="1324.0" y="627.0" font-size="9.5" fill="#979797" text-anchor="middle" textLength="9.7" lengthAdjust="spacingAndGlyphs">26</text>
<text x="1434.2" y="531.3" font-size="9.5" fill="#979797" text-anchor="middle" textLength="9.7" lengthAdjust="spacingAndGlyphs">20</text>
<text x="1452.0" y="531.7" font-size="9.5" fill="#979797" text-anchor="middle" textLength="9.7" lengthAdjust="spacingAndGlyphs">19</text>
<text x="1415.1" y="543.0" font-size="9.5" fill="#979797" text-anchor="middle" textLength="9.7" lengthAdjust="spacingAndGlyphs">21</text>
<text x="1467.3" y="543.0" font-size="9.5" fill="#979797" text-anchor="middle" textLength="9.7" lengthAdjust="spacingAndGlyphs">18</text>
<text x="1403.5" y="557.9" font-size="9.5" fill="#979797" text-anchor="middle" textLength="9.7" lengthAdjust="spacingAndGlyphs">22</text>
<text x="1470.1" y="559.1" font-size="9.5" fill="#979797" text-anchor="middle" textLength="9.7" lengthAdjust="spacingAndGlyphs">17</text>
<text x="1464.4" y="576.1" font-size="9.5" fill="#979797" text-anchor="middle" textLength="9.7" lengthAdjust="spacingAndGlyphs">16</text>
<text x="1391.7" y="579.5" font-size="9.5" fill="#979797" text-anchor="middle" textLength="9.7" lengthAdjust="spacingAndGlyphs">23</text>
<text x="1451.3" y="596.2" font-size="9.5" fill="#979797" text-anchor="middle" textLength="9.7" lengthAdjust="spacingAndGlyphs">15</text>
<text x="1377.3" y="613.9" font-size="9.5" fill="#979797" text-anchor="middle" textLength="9.7" lengthAdjust="spacingAndGlyphs">24</text>
<text x="1429.0" y="627.7" font-size="9.5" fill="#979797" text-anchor="middle" textLength="9.7" lengthAdjust="spacingAndGlyphs">14</text>
<text x="1363.4" y="637.3" font-size="9.5" fill="#979797" text-anchor="middle" textLength="9.7" lengthAdjust="spacingAndGlyphs">25</text>
<text x="1418.2" y="645.1" font-size="9.5" fill="#979797" text-anchor="middle" textLength="9.7" lengthAdjust="spacingAndGlyphs">12</text>
<text x="1468.5" y="664.9" font-size="9.5" fill="#979797" text-anchor="middle" textLength="9.7" lengthAdjust="spacingAndGlyphs">11</text>
<text x="1487.5" y="670.6" font-size="9.5" fill="#979797" text-anchor="middle" textLength="9.7" lengthAdjust="spacingAndGlyphs">10</text>
<text x="1510.0" y="682.7" font-size="9.5" fill="#979797" text-anchor="middle" textLength="4.8" lengthAdjust="spacingAndGlyphs">9</text>
<text x="1527.5" y="693.7" font-size="9.5" fill="#979797" text-anchor="middle" textLength="4.8" lengthAdjust="spacingAndGlyphs">8</text>
<text x="1541.0" y="702.4" font-size="9.5" fill="#979797" text-anchor="middle" textLength="4.8" lengthAdjust="spacingAndGlyphs">7</text>
<text x="1549.3" y="714.2" font-size="9.5" fill="#979797" text-anchor="middle" textLength="4.8" lengthAdjust="spacingAndGlyphs">6</text>
<text x="1478.8" y="726.9" font-size="9.5" fill="#979797" text-anchor="middle" textLength="4.8" lengthAdjust="spacingAndGlyphs">5</text>
<text x="1488.5" y="740.2" font-size="9.5" fill="#979797" text-anchor="middle" textLength="4.8" lengthAdjust="spacingAndGlyphs">1</text>
<text x="1504.0" y="748.9" font-size="9.5" fill="#979797" text-anchor="middle" textLength="4.8" lengthAdjust="spacingAndGlyphs">2</text>
<text x="1523.5" y="751.9" font-size="9.5" fill="#979797" text-anchor="middle" textLength="4.8" lengthAdjust="spacingAndGlyphs">3</text>
<text x="1099.5" y="687.9" font-size="9.5" fill="#979797" text-anchor="middle" textLength="4.8" lengthAdjust="spacingAndGlyphs">6</text>
<text x="1151.8" y="671.9" font-size="9.5" fill="#979797" text-anchor="middle" textLength="4.8" lengthAdjust="spacingAndGlyphs">5</text>
<text x="1211.5" y="659.4" font-size="9.5" fill="#979797" text-anchor="middle" textLength="4.8" lengthAdjust="spacingAndGlyphs">4</text>
<text x="1341.5" y="659.9" font-size="9.5" fill="#979797" text-anchor="middle" textLength="4.8" lengthAdjust="spacingAndGlyphs">3</text>
<text x="1399.5" y="672.2" font-size="9.5" fill="#979797" text-anchor="middle" textLength="4.8" lengthAdjust="spacingAndGlyphs">2</text>
<text x="1458.8" y="690.4" font-size="9.5" fill="#979797" text-anchor="middle" textLength="4.8" lengthAdjust="spacingAndGlyphs">1</text>
<text x="1120.0" y="741.9" font-size="9.5" fill="#979797" text-anchor="middle" textLength="9.7" lengthAdjust="spacingAndGlyphs">14</text>
<text x="1142.0" y="732.8" font-size="9.5" fill="#979797" text-anchor="middle" textLength="9.7" lengthAdjust="spacingAndGlyphs">13</text>
<text x="1165.0" y="724.9" font-size="9.5" fill="#979797" text-anchor="middle" textLength="9.7" lengthAdjust="spacingAndGlyphs">12</text>
<text x="1191.2" y="718.4" font-size="9.5" fill="#979797" text-anchor="middle" textLength="9.7" lengthAdjust="spacingAndGlyphs">11</text>
<text x="1216.2" y="715.4" font-size="9.5" fill="#979797" text-anchor="middle" textLength="9.7" lengthAdjust="spacingAndGlyphs">10</text>
<text x="1238.5" y="712.1" font-size="9.5" fill="#979797" text-anchor="middle" textLength="4.8" lengthAdjust="spacingAndGlyphs">9</text>
<text x="1261.5" y="710.4" font-size="9.5" fill="#979797" text-anchor="middle" textLength="4.8" lengthAdjust="spacingAndGlyphs">8</text>
<text x="1299.0" y="710.4" font-size="9.5" fill="#979797" text-anchor="middle" textLength="4.8" lengthAdjust="spacingAndGlyphs">7</text>
<text x="1316.5" y="710.9" font-size="9.5" fill="#979797" text-anchor="middle" textLength="4.8" lengthAdjust="spacingAndGlyphs">6</text>
<text x="1343.0" y="714.9" font-size="9.5" fill="#979797" text-anchor="middle" textLength="4.8" lengthAdjust="spacingAndGlyphs">5</text>
<text x="1364.5" y="719.2" font-size="9.5" fill="#979797" text-anchor="middle" textLength="4.8" lengthAdjust="spacingAndGlyphs">4</text>
<text x="1390.5" y="726.2" font-size="9.5" fill="#979797" text-anchor="middle" textLength="4.8" lengthAdjust="spacingAndGlyphs">3</text>
<text x="1412.4" y="733.9" font-size="9.5" fill="#979797" text-anchor="middle" textLength="4.8" lengthAdjust="spacingAndGlyphs">2</text>
<text x="1432.8" y="743.4" font-size="9.5" fill="#979797" text-anchor="middle" textLength="4.8" lengthAdjust="spacingAndGlyphs">1</text>
<text x="1221.2" y="697.5" font-size="8.2" fill="#a4a4a4" text-anchor="middle" textLength="22" lengthAdjust="spacing">19-36</text>
<text x="1305.6" y="571.5" font-size="14" fill="#4a4a4a" textLength="55.6" lengthAdjust="spacingAndGlyphs" font-weight="350">出境大厅</text>
<text x="1336" y="627.8" font-size="7" fill="#9a9a9a" textLength="42" lengthAdjust="spacingAndGlyphs">远机位登机口</text>
<text x="1208.2" y="641.2" font-size="4.7" fill="#9a9a9a" textLength="28" lengthAdjust="spacingAndGlyphs">远机位登机口</text>
<text x="1486.6" y="772.8" font-size="4.6" fill="#8a8a8a" textLength="37" lengthAdjust="spacingAndGlyphs">国内线专用登机口</text>
<rect x="1102.8" y="702.0" width="18.2" height="18" rx="0.8" fill="#b7b7b7"/>
<text x="1111.9" y="716.2" font-size="14.4" fill="#fff" stroke="#fff" stroke-width="0.45" text-anchor="middle">M</text>
<rect x="1128.0" y="692.0" width="18.2" height="18" rx="0.8" fill="#b7b7b7"/>
<text x="1137.1" y="706.2" font-size="14.4" fill="#fff" stroke="#fff" stroke-width="0.45" text-anchor="middle">L</text>
<rect x="1154.2" y="683.0" width="18.2" height="18" rx="0.8" fill="#b7b7b7"/>
<text x="1163.3" y="697.2" font-size="14.4" fill="#fff" stroke="#fff" stroke-width="0.45" text-anchor="middle">K</text>
<rect x="1182.4" y="677.0" width="18.2" height="18" rx="0.8" fill="#b7b7b7"/>
<text x="1191.5" y="691.2" font-size="14.4" fill="#fff" stroke="#fff" stroke-width="0.45" text-anchor="middle">J</text>
<rect x="1212.0" y="672.0" width="18.2" height="18" rx="0.8" fill="#2591b7"/>
<text x="1221.1" y="686.2" font-size="14.4" fill="#fff" stroke="#fff" stroke-width="0.45" text-anchor="middle">H</text>
<rect x="1249.5" y="669.0" width="18.2" height="18" rx="0.8" fill="#b7b7b7"/>
<text x="1258.6" y="683.2" font-size="14.4" fill="#fff" stroke="#fff" stroke-width="0.45" text-anchor="middle">G</text>
<rect x="1283.0" y="669.4" width="18.2" height="18" rx="0.8" fill="#b7b7b7"/>
<text x="1292.1" y="683.6" font-size="14.4" fill="#fff" stroke="#fff" stroke-width="0.45" text-anchor="middle">F</text>
<rect x="1321.4" y="672.1" width="18.2" height="18" rx="0.8" fill="#b7b7b7"/>
<text x="1330.5" y="686.3" font-size="14.4" fill="#fff" stroke="#fff" stroke-width="0.45" text-anchor="middle">E</text>
<rect x="1353.1" y="677.9" width="18.2" height="18" rx="0.8" fill="#b7b7b7"/>
<text x="1362.2" y="692.1" font-size="14.4" fill="#fff" stroke="#fff" stroke-width="0.45" text-anchor="middle">D</text>
<rect x="1383.4" y="686.2" width="18.2" height="18" rx="0.8" fill="#b7b7b7"/>
<text x="1392.5" y="700.4" font-size="14.4" fill="#fff" stroke="#fff" stroke-width="0.45" text-anchor="middle">C</text>
<rect x="1409.4" y="696.2" width="18.2" height="18" rx="0.8" fill="#b7b7b7"/>
<text x="1418.5" y="710.4" font-size="14.4" fill="#fff" stroke="#fff" stroke-width="0.45" text-anchor="middle">B</text>
<rect x="1435.1" y="704.0" width="18.2" height="18" rx="0.8" fill="#b7b7b7"/>
<text x="1444.2" y="718.2" font-size="14.4" fill="#fff" stroke="#fff" stroke-width="0.45" text-anchor="middle">A</text>
<g transform="translate(1223.00,348.60) scale(0.5250)"><rect width="16" height="16" rx="1.4" fill="#1d7f6e"/><path d="M3.6,16V2.8h8.8V16h-1.5V4.2h-5.8V16z" fill="#fff"/><circle cx="8" cy="7.6" r="0.9" fill="#fff" opacity="0.9"/><path d="M7.2,9.0h1.6l0.2,6.2h-2.0z" fill="#fff" opacity="0.85"/>
</g>
<g transform="translate(1325.60,348.20) scale(0.5250)"><rect width="16" height="16" rx="1.4" fill="#1d7f6e"/><path d="M3.6,16V2.8h8.8V16h-1.5V4.2h-5.8V16z" fill="#fff"/><circle cx="8" cy="7.6" r="0.9" fill="#fff" opacity="0.9"/><path d="M7.2,9.0h1.6l0.2,6.2h-2.0z" fill="#fff" opacity="0.85"/>
</g>
<g transform="translate(1263.55,356.05) scale(0.5437)"><rect width="16" height="16" rx="0.6" fill="#1a7099"/><path d="M1.2,14.2l9.2,-9.6h4.2v2.2h-3.2l-9.2,9.2h-1z" fill="#fff" opacity="0.92"/><path d="M1.0,10.4l7.6,-8" stroke="#fff" stroke-width="0.9" opacity="0.75"/><circle cx="9.2" cy="3.0" r="1.3" fill="#fff"/>
</g>
<g transform="translate(1275.15,356.05) scale(0.5437)"><rect width="16" height="16" rx="0.5" fill="#79a62b"/>
<text x="8" y="14.4" font-size="18" fill="#fff" stroke="#fff" stroke-width="0.35" text-anchor="middle">?</text>
</g>
<g transform="translate(1288.25,356.05) scale(0.5437)"><rect width="16" height="16" rx="0.6" fill="#1a7099"/><path d="M1.2,14.2l9.2,-9.6h4.2v2.2h-3.2l-9.2,9.2h-1z" fill="#fff" opacity="0.92"/><path d="M1.0,10.4l7.6,-8" stroke="#fff" stroke-width="0.9" opacity="0.75"/><circle cx="9.2" cy="3.0" r="1.3" fill="#fff"/>
</g>
<g transform="translate(1267.95,408.65) scale(0.5437)"><rect width="16" height="16" rx="0.6" fill="#1a7099"/><path d="M1.2,14.2l9.2,-9.6h4.2v2.2h-3.2l-9.2,9.2h-1z" fill="#fff" opacity="0.92"/><path d="M1.0,10.4l7.6,-8" stroke="#fff" stroke-width="0.9" opacity="0.75"/><circle cx="9.2" cy="3.0" r="1.3" fill="#fff"/>
</g>
<g transform="translate(1293.55,408.65) scale(0.5437)"><rect width="16" height="16" rx="0.6" fill="#1a7099"/><path d="M1.2,14.2l9.2,-9.6h4.2v2.2h-3.2l-9.2,9.2h-1z" fill="#fff" opacity="0.92"/><path d="M1.0,10.4l7.6,-8" stroke="#fff" stroke-width="0.9" opacity="0.75"/><circle cx="9.2" cy="3.0" r="1.3" fill="#fff"/>
</g>
<g transform="translate(1296.10,387.20) scale(0.5875)"><rect width="16" height="16" rx="0.8" fill="#e0a233"/><g fill="#fff"><path d="M2.9,15.7L6.2,8.8L9.0,7.6L12.4,4.7L13.3,5.6L11.0,9.2L10.7,15.7H8.7L8.9,11.2L7.3,12.0L5.3,15.7Z"/><rect x="13.5" y="6.4" width="1.7" height="9.3"/><rect x="10.8" y="1.5" width="2.3" height="2.3"/></g>
<text x="1.2" y="4.0" font-size="3.3" font-weight="bold" fill="#fff">VIP</text>
</g>
<g transform="translate(1269.95,585.15) scale(0.5437)"><rect width="16" height="16" rx="0.6" fill="#1a7099"/><path d="M1.2,14.2l9.2,-9.6h4.2v2.2h-3.2l-9.2,9.2h-1z" fill="#fff" opacity="0.92"/><path d="M1.0,10.4l7.6,-8" stroke="#fff" stroke-width="0.9" opacity="0.75"/><circle cx="9.2" cy="3.0" r="1.3" fill="#fff"/>
</g>
<g transform="translate(1141.50,566.60) scale(0.5250)"><rect width="16" height="16" rx="1.4" fill="#1d7f6e"/><path d="M3.6,16V2.8h8.8V16h-1.5V4.2h-5.8V16z" fill="#fff"/><circle cx="8" cy="7.6" r="0.9" fill="#fff" opacity="0.9"/><path d="M7.2,9.0h1.6l0.2,6.2h-2.0z" fill="#fff" opacity="0.85"/>
</g>
<g transform="translate(1419.80,560.70) scale(0.5250)"><rect width="16" height="16" rx="1.4" fill="#1d7f6e"/><path d="M3.6,16V2.8h8.8V16h-1.5V4.2h-5.8V16z" fill="#fff"/><circle cx="8" cy="7.6" r="0.9" fill="#fff" opacity="0.9"/><path d="M7.2,9.0h1.6l0.2,6.2h-2.0z" fill="#fff" opacity="0.85"/>
</g>
<g transform="translate(1180.05,656.45) scale(0.5437)"><rect width="16" height="16" rx="0.5" fill="#79a62b"/>
<text x="8" y="14.4" font-size="18" fill="#fff" stroke="#fff" stroke-width="0.35" text-anchor="middle">?</text>
</g>
<g transform="translate(1187.45,666.65) scale(0.5437)"><rect width="16" height="16" rx="2.0" fill="#1f88b0"/>
<text x="8" y="11.0" font-size="8.4" font-weight="bold" fill="#fff" text-anchor="middle" textLength="12.4" lengthAdjust="spacingAndGlyphs">CE</text>
</g>
<g transform="translate(1218.25,662.25) scale(0.5437)"><rect width="16" height="16" rx="1.8" fill="#1f88b0"/><g fill="#fff"><circle cx="5.1" cy="3.1" r="1.15"/><path d="M3.3,4.7h3.6v3.2h-0.7v7.6h-2.2v-7.6h-0.7z"/><rect x="0" y="7.8" width="16" height="0.9"/><circle cx="11.4" cy="3.1" r="1.15"/><path d="M9.1,7.8q0,-3.2 2.3,-3.2q2.3,0 2.3,3.2z"/><rect x="9.1" y="11.3" width="5.4" height="3.4" rx="0.9"/><path d="M10.7,11.5q0,-1.5 1.1,-1.5q1.1,0 1.1,1.5" fill="none" stroke="#fff" stroke-width="0.6"/></g>
</g>
<g transform="translate(1163.15,705.05) scale(0.5437)"><rect width="16" height="16" rx="0.5" fill="#79a62b"/>
<text x="8" y="14.4" font-size="18" fill="#fff" stroke="#fff" stroke-width="0.35" text-anchor="middle">?</text>
</g>
<g transform="translate(1173.45,701.45) scale(0.5437)"><rect width="16" height="16" rx="2.0" fill="#1f88b0"/>
<text x="8" y="11.0" font-size="8.4" font-weight="bold" fill="#fff" text-anchor="middle" textLength="12.4" lengthAdjust="spacingAndGlyphs">CE</text>
</g>
<g transform="translate(1273.25,691.55) scale(0.5437)"><rect width="16" height="16" rx="0.5" fill="#79a62b"/>
<text x="8" y="14.4" font-size="18" fill="#fff" stroke="#fff" stroke-width="0.35" text-anchor="middle">?</text>
</g>
<g transform="translate(1370.45,658.25) scale(0.5437)"><rect width="16" height="16" rx="0.5" fill="#79a62b"/>
<text x="8" y="14.4" font-size="18" fill="#fff" stroke="#fff" stroke-width="0.35" text-anchor="middle">?</text>
</g>
<g transform="translate(1370.45,668.85) scale(0.5437)"><rect width="16" height="16" rx="2.0" fill="#1f88b0"/>
<text x="8" y="11.0" font-size="8.4" font-weight="bold" fill="#fff" text-anchor="middle" textLength="12.4" lengthAdjust="spacingAndGlyphs">CE</text>
</g>
<g transform="translate(1371.15,704.65) scale(0.5437)"><rect width="16" height="16" rx="2.0" fill="#1f88b0"/>
<text x="8" y="11.0" font-size="8.4" font-weight="bold" fill="#fff" text-anchor="middle" textLength="12.4" lengthAdjust="spacingAndGlyphs">CE</text>
</g>
<g transform="translate(1381.65,707.25) scale(0.5437)"><rect width="16" height="16" rx="0.5" fill="#79a62b"/>
<text x="8" y="14.4" font-size="18" fill="#fff" stroke="#fff" stroke-width="0.35" text-anchor="middle">?</text>
</g>
<path d="M1075.0,359.5 L1262.2,359.5 L1262.2,660.0" fill="none" stroke="#dcf6f8" stroke-width="3.2" stroke-linejoin="round" opacity="0.9"/>
<path d="M1075.0,359.5 L1262.2,359.5 L1262.2,660.0" fill="none" stroke="#db1219" stroke-width="1.5" stroke-dasharray="1.25 1.05" stroke-linejoin="round"/>
<path d="M1204.0,702.8 L1237.0,702.8 L1237.0,661.2 L1238.6,659.6 L1310.6,659.6 L1310.6,699.8 L1333.0,699.8" fill="none" stroke="#dcf6f8" stroke-width="3.2" stroke-linejoin="round" opacity="0.9"/>
<path d="M1204.0,702.8 L1237.0,702.8 L1237.0,661.2 L1238.6,659.6 L1310.6,659.6 L1310.6,699.8 L1333.0,699.8" fill="none" stroke="#db1219" stroke-width="1.5" stroke-dasharray="1.25 1.05" stroke-linejoin="round"/>
<path d="M1310.6,667.2 L1351.6,667.2 L1351.6,654.6 L1376.2,654.6 L1443.2,553.8" fill="none" stroke="#dcf6f8" stroke-width="3.2" stroke-linejoin="round" opacity="0.9"/>
<path d="M1310.6,667.2 L1351.6,667.2 L1351.6,654.6 L1376.2,654.6 L1443.2,553.8" fill="none" stroke="#db1219" stroke-width="1.5" stroke-dasharray="1.25 1.05" stroke-linejoin="round"/>
<path d="M1288.2,660.0 L1288.2,370.2 L1301.8,370.2 L1301.8,360.2 L1303.2,358.8 L1480.6,358.8" fill="none" stroke="#dcf6f8" stroke-width="3.2" stroke-linejoin="round" opacity="0.9"/>
<path d="M1288.2,660.0 L1288.2,370.2 L1301.8,370.2 L1301.8,360.2 L1303.2,358.8 L1480.6,358.8" fill="none" stroke="#db1219" stroke-width="1.5" stroke-dasharray="1.25 1.05" stroke-linejoin="round"/>
<circle cx="1075.3" cy="357.4" r="7.15" fill="#c4f1f7"/>
<path d="M1070.4,361.4 L1069.6,363.9 L1072.9,363.3Z" fill="#db1219"/>
<circle cx="1075.3" cy="357.4" r="6.4" fill="#db1219"/>
<text x="1075.3999999999999" y="361.65" font-size="11.8" font-weight="bold" fill="#fff" text-anchor="middle">4</text>
<circle cx="1239" cy="357.8" r="7.15" fill="#c4f1f7"/>
<path d="M1234.1,361.8 L1233.3,364.3 L1236.6,363.7Z" fill="#db1219"/>
<circle cx="1239" cy="357.8" r="6.4" fill="#db1219"/>
<text x="1239.1" y="362.05" font-size="11.8" font-weight="bold" fill="#fff" text-anchor="middle">3</text>
<circle cx="1342.2" cy="357.2" r="7.15" fill="#c4f1f7"/>
<path d="M1337.3,361.2 L1336.5,363.7 L1339.8,363.1Z" fill="#db1219"/>
<circle cx="1342.2" cy="357.2" r="6.4" fill="#db1219"/>
<text x="1342.3" y="361.45" font-size="11.8" font-weight="bold" fill="#fff" text-anchor="middle">3</text>
<circle cx="1480.6" cy="357.4" r="7.15" fill="#c4f1f7"/>
<path d="M1475.7,361.4 L1474.9,363.9 L1478.2,363.3Z" fill="#db1219"/>
<circle cx="1480.6" cy="357.4" r="6.4" fill="#db1219"/>
<text x="1480.6999999999998" y="361.65" font-size="11.8" font-weight="bold" fill="#fff" text-anchor="middle">4</text>
<circle cx="1112" cy="556.2" r="7.15" fill="#c4f1f7"/>
<path d="M1107.1,560.2 L1106.3,562.7 L1109.6,562.1Z" fill="#db1219"/>
<circle cx="1112" cy="556.2" r="6.4" fill="#db1219"/>
<text x="1112.1" y="560.45" font-size="11.8" font-weight="bold" fill="#fff" text-anchor="middle">4</text>
<circle cx="1135.7" cy="579.8" r="7.15" fill="#c4f1f7"/>
<path d="M1130.8,583.8 L1130.0,586.3 L1133.3,585.7Z" fill="#db1219"/>
<circle cx="1135.7" cy="579.8" r="6.4" fill="#db1219"/>
<text x="1135.8" y="584.05" font-size="11.8" font-weight="bold" fill="#fff" text-anchor="middle">3</text>
<circle cx="1443.2" cy="553.8" r="7.15" fill="#c4f1f7"/>
<path d="M1438.3,557.8 L1437.5,560.3 L1440.8,559.7Z" fill="#db1219"/>
<circle cx="1443.2" cy="553.8" r="6.4" fill="#db1219"/>
<text x="1443.3" y="558.05" font-size="11.8" font-weight="bold" fill="#fff" text-anchor="middle">4</text>
<circle cx="1422.2" cy="580.7" r="7.15" fill="#c4f1f7"/>
<path d="M1417.3,584.7 L1416.5,587.2 L1419.8,586.6Z" fill="#db1219"/>
<circle cx="1422.2" cy="580.7" r="6.4" fill="#db1219"/>
<text x="1422.3" y="584.95" font-size="11.8" font-weight="bold" fill="#fff" text-anchor="middle">3</text>
<circle cx="1204" cy="702.6" r="7.15" fill="#c4f1f7"/>
<path d="M1199.1,706.6 L1198.3,709.1 L1201.6,708.5Z" fill="#db1219"/>
<circle cx="1204" cy="702.6" r="6.4" fill="#db1219"/>
<text x="1204.1" y="706.85" font-size="11.8" font-weight="bold" fill="#fff" text-anchor="middle">1</text>
<circle cx="1275.5" cy="659.6" r="7.15" fill="#c4f1f7"/>
<path d="M1270.6,663.6 L1269.8,666.1 L1273.1,665.5Z" fill="#db1219"/>
<circle cx="1275.5" cy="659.6" r="6.4" fill="#db1219"/>
<text x="1275.6" y="663.85" font-size="11.8" font-weight="bold" fill="#fff" text-anchor="middle">2</text>
<circle cx="1333" cy="699.6" r="7.15" fill="#c4f1f7"/>
<path d="M1328.1,703.6 L1327.3,706.1 L1330.6,705.5Z" fill="#db1219"/>
<circle cx="1333" cy="699.6" r="6.4" fill="#db1219"/>
<text x="1333.1" y="703.85" font-size="11.8" font-weight="bold" fill="#fff" text-anchor="middle">1</text>
<defs><linearGradient id="cone" x1="0" y1="0" x2="0" y2="1"><stop offset="0" stop-color="#2a7fa8" stop-opacity="0.95"/><stop offset="1" stop-color="#9fd0e4" stop-opacity="0.15"/></linearGradient></defs>
<path d="M1217.8,725.0 L1221.3999999999999,733.8000000000001 L1214.2,733.8000000000001Z" fill="url(#cone)"/>
<path d="M1217.8,722.5 L1220.0,725.5 L1218.8,725.3000000000001 L1219.1,728.0 L1216.5,728.0 L1216.8,725.3000000000001 L1215.6,725.5Z" fill="#0e58a4"/>
<path d="M1316.7,720.0 L1320.3,728.8000000000001 L1313.1000000000001,728.8000000000001Z" fill="url(#cone)"/>
<path d="M1316.7,717.5 L1318.9,720.5 L1317.7,720.3000000000001 L1318.0,723.0 L1315.4,723.0 L1315.7,720.3000000000001 L1314.5,720.5Z" fill="#0e58a4"/>
</g>
<g id="legend">
<text x="938.4" y="905.3" font-size="15.2" fill="#2a2a2a" textLength="31" lengthAdjust="spacingAndGlyphs">图例</text>
<text x="981" y="904.9" font-size="16" fill="#2a2a2a" textLength="101" lengthAdjust="spacingAndGlyphs">THE LEGEND</text>
<rect x="937" y="911.5" width="842" height="1.5" fill="#bdbdbd"/>
<rect x="936.5" y="926.9" width="15.8" height="15.6" fill="#2c94bf"/>
<rect x="936.5" y="961.0" width="15.8" height="15.6" fill="#3a958a"/>
<rect x="936.5" y="994.8" width="15.8" height="15.6" fill="#e0a73e"/>
<g transform="translate(936.10,1028.80) scale(1.0000)"><rect width="16" height="16" rx="0.5" fill="#79a62b"/>
<text x="8" y="14.4" font-size="18" fill="#fff" stroke="#fff" stroke-width="0.35" text-anchor="middle">?</text>
</g>
<text x="961" y="934.6" font-size="9" fill="#4f4f4f" textLength="52.8" lengthAdjust="spacingAndGlyphs">南航值机柜台</text>
<text x="961" y="943.1" font-size="8.0" fill="#6e6e6e" textLength="113.2" lengthAdjust="spacingAndGlyphs">Check-In Counter（Domestic）</text>
<text x="961" y="968.8" font-size="9" fill="#4f4f4f" textLength="43.6" lengthAdjust="spacingAndGlyphs">安全检查区</text>
<text x="961" y="977.3" font-size="8.0" fill="#6e6e6e" textLength="54.5" lengthAdjust="spacingAndGlyphs">Security Check</text>
<text x="961" y="1002.2" font-size="9" fill="#4f4f4f" textLength="39.6" lengthAdjust="spacingAndGlyphs">VIP候机区</text>
<text x="961" y="1009.7" font-size="8.0" fill="#6e6e6e" textLength="29.6" lengthAdjust="spacingAndGlyphs">VIP Only</text>
<text x="961.6" y="1036.4" font-size="9" fill="#4f4f4f" textLength="26.2" lengthAdjust="spacingAndGlyphs">问讯处</text>
<text x="961.6" y="1044.7" font-size="8.0" fill="#6e6e6e" textLength="26" lengthAdjust="spacingAndGlyphs">Enquiry</text>
<defs><linearGradient id="coneG" x1="0" y1="0" x2="0" y2="1"><stop offset="0" stop-color="#5a9a3a" stop-opacity="0.95"/><stop offset="1" stop-color="#c4e0a8" stop-opacity="0.15"/></linearGradient></defs>
<path d="M1092.0,929.4 L1095.6,938.2 L1088.4,938.2Z" fill="url(#cone)"/>
<path d="M1092.0,926.9 L1094.2,929.9 L1093.0,929.7 L1093.3,932.4 L1090.7,932.4 L1091.0,929.7 L1089.8,929.9Z" fill="#0e58a4"/>
<path d="M1092.0,963.1999999999999 L1095.6,972.0 L1088.4,972.0Z" fill="url(#coneG)"/>
<path d="M1092.0,960.6999999999999 L1094.2,963.6999999999999 L1093.0,963.5 L1093.3,966.1999999999999 L1090.7,966.1999999999999 L1091.0,963.5 L1089.8,963.6999999999999Z" fill="#4f9a3c"/>
<g transform="translate(1084.40,994.80) scale(1.0125)"><rect width="16" height="16" rx="1.8" fill="#79a62b"/><g fill="#fff"><circle cx="5.1" cy="3.1" r="1.15"/><path d="M3.3,4.7h3.6v3.2h-0.7v7.6h-2.2v-7.6h-0.7z"/><rect x="0" y="7.8" width="16" height="0.9"/><circle cx="11.4" cy="3.1" r="1.15"/><path d="M9.1,7.8q0,-3.2 2.3,-3.2q2.3,0 2.3,3.2z"/><rect x="9.1" y="11.3" width="5.4" height="3.4" rx="0.9"/><path d="M10.7,11.5q0,-1.5 1.1,-1.5q1.1,0 1.1,1.5" fill="none" stroke="#fff" stroke-width="0.6"/></g>
</g>
<g transform="translate(1084.80,1028.60) scale(1.0125)"><rect width="16" height="16" rx="1.8" fill="#79a62b"/><g fill="#fff"><circle cx="5.1" cy="3.1" r="1.15"/><path d="M3.3,4.7h3.6v3.2h-0.7v7.6h-2.2v-7.6h-0.7z"/><rect x="0" y="7.8" width="16" height="0.9"/><circle cx="11.4" cy="3.1" r="1.15"/><path d="M9.1,7.8q0,-3.2 2.3,-3.2q2.3,0 2.3,3.2z"/><rect x="9.1" y="11.3" width="5.4" height="3.4" rx="0.9"/><path d="M10.7,11.5q0,-1.5 1.1,-1.5q1.1,0 1.1,1.5" fill="none" stroke="#fff" stroke-width="0.6"/></g><circle cx="2.4" cy="2.4" r="2.3" fill="#fff"/><circle cx="2.4" cy="2.4" r="1.6" fill="#79a62b"/><path d="M1.4,2.4l0.8,0.8l1.3,-1.6" fill="none" stroke="#fff" stroke-width="0.55"/>
</g>
<text x="1110.9" y="934.4" font-size="9" fill="#4f4f4f" textLength="35.2" lengthAdjust="spacingAndGlyphs">机场入口</text>
<text x="1110.9" y="942.1" font-size="8.0" fill="#6e6e6e" textLength="32.6" lengthAdjust="spacingAndGlyphs">Entrance</text>
<text x="1110.9" y="968.6" font-size="9" fill="#4f4f4f" textLength="35.2" lengthAdjust="spacingAndGlyphs">机场出口</text>
<text x="1110.9" y="976.1" font-size="8.0" fill="#6e6e6e" textLength="21.6" lengthAdjust="spacingAndGlyphs">Export</text>
<text x="1110.9" y="1001.8" font-size="8.2" fill="#4f4f4f" textLength="90.8" lengthAdjust="spacingAndGlyphs">头等舱/公务舱乘机服务区</text>
<text x="1110.9" y="1010.9" font-size="7.2" fill="#6e6e6e" textLength="112.7" lengthAdjust="spacingAndGlyphs">First/Business Class Check-in lounge</text>
<text x="1110.9" y="1035.8" font-size="8.2" fill="#4f4f4f" textLength="106.9" lengthAdjust="spacingAndGlyphs">头等舱/公务舱国际乘机服务区</text>
<text x="1110.9" y="1045.1" font-size="7.2" fill="#6e6e6e" textLength="154.8" lengthAdjust="spacingAndGlyphs">First/Business Class International Check-in lounge</text>
<g transform="translate(1276.10,926.90) scale(1.0125)"><rect width="16" height="16" rx="1.8" fill="#1f88b0"/><g fill="#fff"><circle cx="5.1" cy="3.1" r="1.15"/><path d="M3.3,4.7h3.6v3.2h-0.7v7.6h-2.2v-7.6h-0.7z"/><rect x="0" y="7.8" width="16" height="0.9"/><circle cx="11.4" cy="3.1" r="1.15"/><path d="M9.1,7.8q0,-3.2 2.3,-3.2q2.3,0 2.3,3.2z"/><rect x="9.1" y="11.3" width="5.4" height="3.4" rx="0.9"/><path d="M10.7,11.5q0,-1.5 1.1,-1.5q1.1,0 1.1,1.5" fill="none" stroke="#fff" stroke-width="0.6"/></g>
</g>
<g transform="translate(1276.10,961.20) scale(1.0125)"><rect width="16" height="16" rx="1.8" fill="#1f88b0"/><g fill="#fff"><rect x="1.6" y="3.4" width="5.6" height="3.9" rx="0.9"/><path d="M3.2,3.6q0,-1.7 1.2,-1.7q1.2,0 1.2,1.7" fill="none" stroke="#fff" stroke-width="0.7"/><rect x="8.8" y="3.4" width="5.6" height="3.9" rx="0.9"/><path d="M10.4,3.6q0,-1.7 1.2,-1.7q1.2,0 1.2,1.7" fill="none" stroke="#fff" stroke-width="0.7"/><rect x="1.6" y="10.6" width="5.6" height="3.9" rx="0.9"/><path d="M3.2,10.799999999999999q0,-1.7 1.2,-1.7q1.2,0 1.2,1.7" fill="none" stroke="#fff" stroke-width="0.7"/><rect x="8.8" y="10.6" width="5.6" height="3.9" rx="0.9"/><path d="M10.4,10.799999999999999q0,-1.7 1.2,-1.7q1.2,0 1.2,1.7" fill="none" stroke="#fff" stroke-width="0.7"/><rect x="0.6" y="8.1" width="14.8" height="0.55" opacity="0.7"/></g>
</g>
<g transform="translate(1276.10,994.80) scale(1.0125)"><rect width="16" height="16" rx="1.8" fill="#1f88b0"/><g transform="translate(8.6,8.2) rotate(-45)"><rect x="-6.0" y="-3.3" width="12" height="6.6" rx="0.5" fill="#fff"/><rect x="-4.8" y="-2.1" width="5.2" height="0.8" fill="#1f88b0" opacity="0.8"/><rect x="-4.8" y="-0.4" width="3.6" height="0.8" fill="#1f88b0" opacity="0.8"/><rect x="-4.8" y="1.3" width="4.4" height="0.8" fill="#1f88b0" opacity="0.6"/><rect x="1.6" y="-2.2" width="0.8" height="4.4" fill="#1f88b0" opacity="0.8"/><rect x="3.3" y="-2.2" width="1.6" height="2.0" fill="#1f88b0" opacity="0.6"/></g><rect x="0" y="12.6" width="16" height="3.4" fill="#1f88b0"/><rect x="0.9" y="13.3" width="14.2" height="0.9" fill="#fff"/>
</g>
<g transform="translate(1276.10,1028.60) scale(1.0125)"><rect width="16" height="16" rx="1.2" fill="#1f88b0"/><g transform="translate(10.4,8.2) rotate(-32)"><rect x="-3.6" y="-2.1" width="7.2" height="4.2" fill="none" stroke="#fff" stroke-width="0.7"/><path d="M-1.2,-2.1v4.2" stroke="#fff" stroke-width="0.5" stroke-dasharray="0.6 0.5"/><path d="M0.4,0l2,-1l0,2z" fill="#fff" opacity="0.85"/></g><path d="M0,8.2q1.6,-1.9 3.6,-1.6l2.8,-0.7q1.9,0.4 0.3,1.7l-1.4,0.6l2.4,1.3q0.9,1.3 -0.8,1.5l-2.6,-0.9l-1.9,1.6l-2.4,0.6z" fill="#fff"/>
</g>
<g transform="translate(1276.10,1064.50) scale(1.0125)"><rect width="16" height="16" rx="1.8" fill="#1f88b0"/><g fill="#fff"><circle cx="5.1" cy="3.1" r="1.15"/><path d="M3.3,4.7h3.6v3.2h-0.7v7.6h-2.2v-7.6h-0.7z"/><rect x="0" y="7.8" width="16" height="0.9"/><circle cx="11.4" cy="3.1" r="1.15"/><path d="M9.1,7.8q0,-3.2 2.3,-3.2q2.3,0 2.3,3.2z"/><rect x="9.1" y="11.3" width="5.4" height="3.4" rx="0.9"/><path d="M10.7,11.5q0,-1.5 1.1,-1.5q1.1,0 1.1,1.5" fill="none" stroke="#fff" stroke-width="0.6"/></g><circle cx="2.4" cy="2.4" r="2.3" fill="#fff"/><circle cx="2.4" cy="2.4" r="1.6" fill="#1f88b0"/><path d="M1.4,2.4l0.8,0.8l1.3,-1.6" fill="none" stroke="#fff" stroke-width="0.55"/>
</g>
<text x="1300" y="934.7" font-size="9" fill="#4f4f4f" textLength="52.7" lengthAdjust="spacingAndGlyphs">南航值机柜台</text>
<text x="1300" y="943.3" font-size="8.0" fill="#6e6e6e" textLength="114.9" lengthAdjust="spacingAndGlyphs">Check- in Counter（Domestic）</text>
<text x="1300" y="968.7" font-size="9" fill="#4f4f4f" textLength="35.2" lengthAdjust="spacingAndGlyphs">行李托运</text>
<text x="1300" y="977.0" font-size="8.0" fill="#6e6e6e" textLength="68" lengthAdjust="spacingAndGlyphs">Baggage Drop- off</text>
<text x="1300" y="1002.2" font-size="9" fill="#4f4f4f" textLength="88" lengthAdjust="spacingAndGlyphs">南航自助办理乘机区域</text>
<text x="1300" y="1010.8" font-size="8.0" fill="#6e6e6e" textLength="74.2" lengthAdjust="spacingAndGlyphs">China Sounthern self</text>
<text x="1300" y="1018.6" font-size="8.0" fill="#6e6e6e" textLength="91.8" lengthAdjust="spacingAndGlyphs">check- in kiosk[Domestic]</text>
<text x="1300" y="1036.3" font-size="9" fill="#4f4f4f" textLength="35.2" lengthAdjust="spacingAndGlyphs">票务服务</text>
<text x="1300" y="1045.0" font-size="8.0" fill="#6e6e6e" textLength="80.9" lengthAdjust="spacingAndGlyphs">Ticketing（Domestic）</text>
<text x="1300" y="1072.4" font-size="9" fill="#4f4f4f" textLength="64" lengthAdjust="spacingAndGlyphs">南航国际值机柜台</text>
<text x="1300" y="1080.5" font-size="8.0" fill="#6e6e6e" textLength="124.3" lengthAdjust="spacingAndGlyphs">Check- in Counter（International）</text>
<g transform="translate(1436.80,926.90) scale(1.0125)"><rect width="16" height="16" rx="1.6" fill="#268a78"/><path d="M3.1,16V2.1h9.8V16h-2.1V4.0h-5.6V16z" fill="#fff"/><path d="M6.4,16V5.2h3.2V16" fill="none" stroke="#fff" stroke-width="0.6"/><circle cx="8" cy="7.3" r="0.9" fill="#fff"/><path d="M7.1,8.6h1.8l0.3,6.6h-2.4z" fill="#fff"/><path d="M0,14.2l1.5,1.8h-1.5zM16,14.2l-1.5,1.8h1.5z" fill="#fff"/>
</g>
<g transform="translate(1436.80,961.20) scale(1.0125)"><path d="M1.8,0h12.4q1.8,0 1.8,1.8v8.4l-5.8,5.8h-8.4q-1.8,0 -1.8,-1.8v-12.4q0,-1.8 1.8,-1.8z" fill="#268a78"/><g fill="#fff"><rect x="4.1" y="4.6" width="1.9" height="2.8" rx="0.4"/><path d="M10.4,2.9h3.6v2.0q-0.3,1.6 -1.8,1.9q-1.5,-0.3 -1.8,-1.9z"/><path d="M3.6,9.4l1,-1l2.2,2.0l4.0,-3.4l2.4,-0.6l-6.2,7.0z"/><rect x="9.6" y="13.3" width="4.6" height="0.8"/></g>
</g>
<g transform="translate(1436.80,994.40) scale(1.0125)"><path d="M1.8,0h12.4q1.8,0 1.8,1.8v8.4l-5.8,5.8h-8.4q-1.8,0 -1.8,-1.8v-12.4q0,-1.8 1.8,-1.8z" fill="#268a78"/><g fill="#fff"><rect x="4.1" y="4.6" width="1.9" height="2.8" rx="0.4"/><path d="M10.4,2.9h3.6v2.0q-0.3,1.6 -1.8,1.9q-1.5,-0.3 -1.8,-1.9z"/><path d="M3.6,9.4l1,-1l2.2,2.0l4.0,-3.4l2.4,-0.6l-6.2,7.0z"/><rect x="9.6" y="13.3" width="4.6" height="0.8"/></g><circle cx="2.7" cy="3.0" r="1.0" fill="#fff" opacity="0.9"/>
</g>
<g transform="translate(1436.80,1028.00) scale(1.0125)"><rect width="16" height="16" rx="2.0" fill="#1f88b0"/>
<text x="8" y="11.0" font-size="8.4" font-weight="bold" fill="#fff" text-anchor="middle" textLength="12.4" lengthAdjust="spacingAndGlyphs">CE</text>
</g>
<g transform="translate(1436.40,1064.50) scale(1.0125)"><rect width="16" height="16" rx="1.2" fill="#1f88b0"/><g transform="translate(10.4,8.2) rotate(-32)"><rect x="-3.6" y="-2.1" width="7.2" height="4.2" fill="none" stroke="#fff" stroke-width="0.7"/><path d="M-1.2,-2.1v4.2" stroke="#fff" stroke-width="0.5" stroke-dasharray="0.6 0.5"/><path d="M0.4,0l2,-1l0,2z" fill="#fff" opacity="0.85"/></g><path d="M0,8.2q1.6,-1.9 3.6,-1.6l2.8,-0.7q1.9,0.4 0.3,1.7l-1.4,0.6l2.4,1.3q0.9,1.3 -0.8,1.5l-2.6,-0.9l-1.9,1.6l-2.4,0.6z" fill="#fff"/><circle cx="2.5" cy="2.5" r="2.3" fill="#fff"/><circle cx="2.5" cy="2.5" r="1.6" fill="#1f88b0"/><path d="M1.5,2.5l0.8,0.8l1.3,-1.6" fill="none" stroke="#fff" stroke-width="0.55"/>
</g>
<text x="1460.6" y="934.7" font-size="9" fill="#4f4f4f" textLength="34.9" lengthAdjust="spacingAndGlyphs">安全检查</text>
<text x="1460.6" y="942.8" font-size="8.0" fill="#6e6e6e" textLength="54.4" lengthAdjust="spacingAndGlyphs">Security Check</text>
<text x="1460.6" y="968.7" font-size="9" fill="#4f4f4f" textLength="34.9" lengthAdjust="spacingAndGlyphs">海关检查</text>
<text x="1460.6" y="977.8" font-size="8.0" fill="#6e6e6e" textLength="35.4" lengthAdjust="spacingAndGlyphs">CUSTOMS</text>
<text x="1460.6" y="1002.0" font-size="9" fill="#4f4f4f" textLength="44.2" lengthAdjust="spacingAndGlyphs">入境事务处</text>
<text x="1460.6" y="1010.5" font-size="8.0" fill="#6e6e6e" textLength="43.4" lengthAdjust="spacingAndGlyphs">Immigration</text>
<text x="1460.6" y="1036.5" font-size="9" fill="#4f4f4f" textLength="34.9" lengthAdjust="spacingAndGlyphs">货币兑换</text>
<text x="1460.6" y="1044.8" font-size="8.0" fill="#6e6e6e" textLength="115.0" lengthAdjust="spacingAndGlyphs">Check- In Counter（Domestic）</text>
<text x="1460.3" y="1072.0" font-size="9" fill="#4f4f4f" textLength="52.2" lengthAdjust="spacingAndGlyphs">国际票务服务</text>
<text x="1460.3" y="1080.7" font-size="8.0" fill="#6e6e6e" textLength="92.3" lengthAdjust="spacingAndGlyphs">Ticketing（International）</text>
<g transform="translate(1586.70,926.70) scale(1.0125)"><rect width="16" height="16" rx="0.8" fill="#e0a233"/><g fill="#fff"><path d="M2.9,15.7L6.2,8.8L9.0,7.6L12.4,4.7L13.3,5.6L11.0,9.2L10.7,15.7H8.7L8.9,11.2L7.3,12.0L5.3,15.7Z"/><rect x="13.5" y="6.4" width="1.7" height="9.3"/><rect x="10.8" y="1.5" width="2.3" height="2.3"/></g>
<text x="1.2" y="4.0" font-size="3.3" font-weight="bold" fill="#fff">VIP</text>
</g>
<g transform="translate(1586.70,960.80) scale(1.0125)"><rect width="16" height="16" rx="1.8" fill="#e0a233"/><g transform="translate(8.6,8.2) rotate(-45)"><rect x="-6.0" y="-3.3" width="12" height="6.6" rx="0.5" fill="#fff"/><rect x="-4.8" y="-2.1" width="5.2" height="0.8" fill="#e0a233" opacity="0.8"/><rect x="-4.8" y="-0.4" width="3.6" height="0.8" fill="#e0a233" opacity="0.8"/><rect x="-4.8" y="1.3" width="4.4" height="0.8" fill="#e0a233" opacity="0.6"/><rect x="1.6" y="-2.2" width="0.8" height="4.4" fill="#e0a233" opacity="0.8"/><rect x="3.3" y="-2.2" width="1.6" height="2.0" fill="#e0a233" opacity="0.6"/></g><rect x="0" y="12.6" width="16" height="3.4" fill="#e0a233"/><rect x="0.9" y="13.3" width="14.2" height="0.9" fill="#fff"/>
</g>
<g transform="translate(1586.70,995.00) scale(0.9875)"><rect width="16" height="16" rx="1.8" fill="#8f3a76"/><g transform="translate(8.6,8.2) rotate(-45)"><rect x="-6.0" y="-3.3" width="12" height="6.6" rx="0.5" fill="#fff"/><rect x="-4.8" y="-2.1" width="5.2" height="0.8" fill="#8f3a76" opacity="0.8"/><rect x="-4.8" y="-0.4" width="3.6" height="0.8" fill="#8f3a76" opacity="0.8"/><rect x="-4.8" y="1.3" width="4.4" height="0.8" fill="#8f3a76" opacity="0.6"/><rect x="1.6" y="-2.2" width="0.8" height="4.4" fill="#8f3a76" opacity="0.8"/><rect x="3.3" y="-2.2" width="1.6" height="2.0" fill="#8f3a76" opacity="0.6"/></g><rect x="0" y="12.6" width="16" height="3.4" fill="#8f3a76"/><rect x="0.9" y="13.3" width="14.2" height="0.9" fill="#fff"/>
</g>
<g transform="translate(1586.70,1028.80) scale(1.0000)"><rect width="16" height="16" rx="1.8" fill="#2a93bd"/><g fill="#fff"><rect x="1.6" y="3.4" width="5.6" height="3.9" rx="0.9"/><path d="M3.2,3.6q0,-1.7 1.2,-1.7q1.2,0 1.2,1.7" fill="none" stroke="#fff" stroke-width="0.7"/><rect x="8.8" y="3.4" width="5.6" height="3.9" rx="0.9"/><path d="M10.4,3.6q0,-1.7 1.2,-1.7q1.2,0 1.2,1.7" fill="none" stroke="#fff" stroke-width="0.7"/><rect x="1.6" y="10.6" width="5.6" height="3.9" rx="0.9"/><path d="M3.2,10.799999999999999q0,-1.7 1.2,-1.7q1.2,0 1.2,1.7" fill="none" stroke="#fff" stroke-width="0.7"/><rect x="8.8" y="10.6" width="5.6" height="3.9" rx="0.9"/><path d="M10.4,10.799999999999999q0,-1.7 1.2,-1.7q1.2,0 1.2,1.7" fill="none" stroke="#fff" stroke-width="0.7"/><rect x="0.6" y="8.1" width="14.8" height="0.55" opacity="0.7"/></g>
</g>
<g transform="translate(1586.70,1064.70) scale(1.0062)"><rect width="16" height="16" rx="1.8" fill="#1f88b0"/><g transform="translate(8.6,8.2) rotate(-45)"><rect x="-6.0" y="-3.3" width="12" height="6.6" rx="0.5" fill="#fff"/><rect x="-4.8" y="-2.1" width="5.2" height="0.8" fill="#1f88b0" opacity="0.8"/><rect x="-4.8" y="-0.4" width="3.6" height="0.8" fill="#1f88b0" opacity="0.8"/><rect x="-4.8" y="1.3" width="4.4" height="0.8" fill="#1f88b0" opacity="0.6"/><rect x="1.6" y="-2.2" width="0.8" height="4.4" fill="#1f88b0" opacity="0.8"/><rect x="3.3" y="-2.2" width="1.6" height="2.0" fill="#1f88b0" opacity="0.6"/></g><rect x="0" y="12.6" width="16" height="3.4" fill="#1f88b0"/><rect x="0.9" y="13.3" width="14.2" height="0.9" fill="#fff"/><circle cx="2.4" cy="2.4" r="2.1" fill="#fff"/><circle cx="2.4" cy="2.4" r="1.5" fill="#1f88b0"/><path d="M1.5,2.4l0.7,0.7l1.2,-1.4" fill="none" stroke="#fff" stroke-width="0.5"/>
</g>
<text x="1612.5" y="934.5" font-size="9" fill="#4f4f4f" textLength="26.7" lengthAdjust="spacingAndGlyphs">贵宾室</text>
<text x="1612.5" y="943.0" font-size="8.0" fill="#6e6e6e" textLength="40.3" lengthAdjust="spacingAndGlyphs">VIP Lounge</text>
<text x="1612.5" y="967.6" font-size="8.1" fill="#4f4f4f" textLength="55.5" lengthAdjust="spacingAndGlyphs">明珠金银卡会员</text>
<text x="1612.5" y="975.5" font-size="8.0" fill="#6e6e6e" textLength="72.2" lengthAdjust="spacingAndGlyphs">Sky Pearl Club Gold/</text>
<text x="1612.5" y="983.3" font-size="8.0" fill="#6e6e6e" textLength="49.5" lengthAdjust="spacingAndGlyphs">Silver Member</text>
<text x="1612.5" y="1001.6" font-size="8.1" fill="#4f4f4f" textLength="63" lengthAdjust="spacingAndGlyphs">南航高端值机柜台</text>
<text x="1612.5" y="1009.2" font-size="8.0" fill="#6e6e6e" textLength="52.5" lengthAdjust="spacingAndGlyphs">Security Check</text>
<text x="1613.7" y="1037.9" font-size="9" fill="#4f4f4f" textLength="34.6" lengthAdjust="spacingAndGlyphs">行李托运</text>
<text x="1613.7" y="1046.7" font-size="8.0" fill="#6e6e6e" textLength="66.3" lengthAdjust="spacingAndGlyphs">Baggage Drop-off</text>
<text x="1610.8" y="1072.0" font-size="9" fill="#4f4f4f" textLength="69.7" lengthAdjust="spacingAndGlyphs">国际自动值机设备</text>
<text x="1610.8" y="1080.3" font-size="8.0" fill="#6e6e6e" textLength="73.4" lengthAdjust="spacingAndGlyphs">China Sounthern self</text>
<text x="1610.8" y="1088.0" font-size="8.0" fill="#6e6e6e" textLength="105" lengthAdjust="spacingAndGlyphs">check- in kiosk (International)</text>
<circle cx="1724" cy="934.8" r="6.9" fill="#0f5a9e"/>
<g transform="translate(1724.05,934.9)"><path d="M-4.3,0.3Q-4.3,-1.7 -2.6,-1.7H2.6Q4.3,-1.7 4.3,0.3L3.2,-0.3Q2.9,-0.6 2.3,-0.6H-2.3Q-2.9,-0.6 -3.2,-0.3Z" fill="#fff"/><path d="M-2.0,-0.8V2.5Q-2.0,4.5 0,4.5Q2.0,4.5 2.0,2.5V-0.8Z" fill="#fff"/><path d="M-0.65,0.3V3.3M0.65,0.3V3.3" stroke="#8fb6da" stroke-width="0.55" fill="none"/><path d="M-1.3,-2.7Q0,-3.7 1.3,-2.7" stroke="#9dc2e2" stroke-width="0.65" fill="none"/></g>
<path d="M1727.0,971.2l2.9,3.8l-0.8,0.7l-4.6,-3.3z" fill="#c6171e"/><circle cx="1724.2" cy="967.3" r="5.5" fill="#c6171e"/>
<text x="1724.3" y="970.6" font-size="9.2" font-weight="bold" fill="#fff" text-anchor="middle">1</text>
<use href="#pl" transform="translate(1724.0,1003.1) scale(1.03)" fill="#c8161c"/>
<text x="1742.8" y="934.5" font-size="9" fill="#4f4f4f" textLength="17.7" lengthAdjust="spacingAndGlyphs">南航</text>
<text x="1742.8" y="943.0" font-size="8.0" fill="#6e6e6e" textLength="55.9" lengthAdjust="spacingAndGlyphs">Southern China</text>
<text x="1742.8" y="968.2" font-size="9" fill="#4f4f4f" textLength="35" lengthAdjust="spacingAndGlyphs">步骤标点</text>
<text x="1742.8" y="975.8" font-size="8.0" fill="#6e6e6e" textLength="19.2" lengthAdjust="spacingAndGlyphs">Steps</text>
<text x="1742.8" y="1002.4" font-size="9" fill="#4f4f4f" textLength="43.4" lengthAdjust="spacingAndGlyphs">南航登机口</text>
<text x="1742.8" y="1012.0" font-size="8.0" fill="#6e6e6e" textLength="53.9" lengthAdjust="spacingAndGlyphs">Boarding Gate</text>
</g>
</svg>
</body>
</html>
